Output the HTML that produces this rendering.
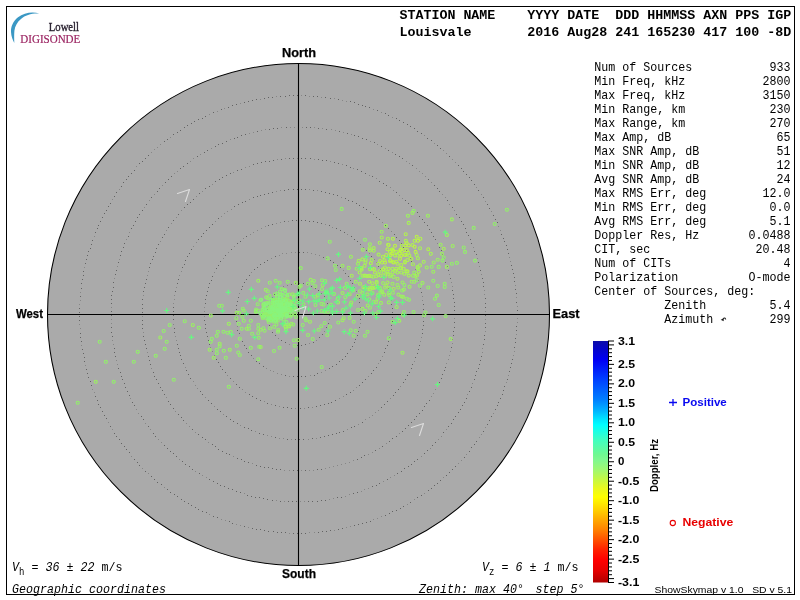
<!DOCTYPE html><html><head><meta charset="utf-8"><style>html,body{margin:0;padding:0;background:#fff;width:800px;height:600px;overflow:hidden}svg{display:block;will-change:transform}text{white-space:pre}</style></head><body><svg width="800" height="600" viewBox="0 0 800 600"><rect x="6.5" y="6.5" width="788" height="588" fill="none" stroke="#000" stroke-width="1"/><path d="M39.2,13.6 C33,11.3 24,12.6 18,17.3 C13,21.3 10.7,26.8 11,32 C11.3,36.5 12.6,40 14.3,42.9 C14.2,39.5 14,35 14.4,30.8 C15,26 17.4,21.8 21,19 C25.4,15.3 31,13.3 39.2,13.6 Z" fill="#3b98c4"/><text x="48.8" y="30.8" font-family="Liberation Serif" font-size="12" fill="#2a2230" stroke="#2a2230" stroke-width="0.35" textLength="30.2" lengthAdjust="spacingAndGlyphs">Lowell</text><text x="20.3" y="42.9" font-family="Liberation Serif" font-size="12" fill="#9a2260" stroke="#9a2260" stroke-width="0.2" textLength="60" lengthAdjust="spacingAndGlyphs">DIGISONDE</text><g font-family="Liberation Mono" font-weight="bold" font-size="13.333" fill="#000" xml:space="preserve"><text x="399.4" y="19">STATION NAME    YYYY DATE  DDD HHMMSS AXN PPS IGP</text><text x="399.4" y="35.5">Louisvale       2016 Aug28 241 165230 417 100 -8D</text></g><g font-family="Liberation Mono" font-size="13" fill="#000"><text x="594.2" y="70.8" textLength="98" lengthAdjust="spacingAndGlyphs">Num of Sources</text><text x="790.6" y="70.8" text-anchor="end" textLength="21" lengthAdjust="spacingAndGlyphs">933</text><text x="594.2" y="84.8" textLength="91" lengthAdjust="spacingAndGlyphs">Min Freq, kHz</text><text x="790.6" y="84.8" text-anchor="end" textLength="28" lengthAdjust="spacingAndGlyphs">2800</text><text x="594.2" y="98.8" textLength="91" lengthAdjust="spacingAndGlyphs">Max Freq, kHz</text><text x="790.6" y="98.8" text-anchor="end" textLength="28" lengthAdjust="spacingAndGlyphs">3150</text><text x="594.2" y="112.8" textLength="91" lengthAdjust="spacingAndGlyphs">Min Range, km</text><text x="790.6" y="112.8" text-anchor="end" textLength="21" lengthAdjust="spacingAndGlyphs">230</text><text x="594.2" y="126.8" textLength="91" lengthAdjust="spacingAndGlyphs">Max Range, km</text><text x="790.6" y="126.8" text-anchor="end" textLength="21" lengthAdjust="spacingAndGlyphs">270</text><text x="594.2" y="140.8" textLength="77" lengthAdjust="spacingAndGlyphs">Max Amp, dB</text><text x="790.6" y="140.8" text-anchor="end" textLength="14" lengthAdjust="spacingAndGlyphs">65</text><text x="594.2" y="154.8" textLength="105" lengthAdjust="spacingAndGlyphs">Max SNR Amp, dB</text><text x="790.6" y="154.8" text-anchor="end" textLength="14" lengthAdjust="spacingAndGlyphs">51</text><text x="594.2" y="168.8" textLength="105" lengthAdjust="spacingAndGlyphs">Min SNR Amp, dB</text><text x="790.6" y="168.8" text-anchor="end" textLength="14" lengthAdjust="spacingAndGlyphs">12</text><text x="594.2" y="182.8" textLength="105" lengthAdjust="spacingAndGlyphs">Avg SNR Amp, dB</text><text x="790.6" y="182.8" text-anchor="end" textLength="14" lengthAdjust="spacingAndGlyphs">24</text><text x="594.2" y="196.8" textLength="112" lengthAdjust="spacingAndGlyphs">Max RMS Err, deg</text><text x="790.6" y="196.8" text-anchor="end" textLength="28" lengthAdjust="spacingAndGlyphs">12.0</text><text x="594.2" y="210.8" textLength="112" lengthAdjust="spacingAndGlyphs">Min RMS Err, deg</text><text x="790.6" y="210.8" text-anchor="end" textLength="21" lengthAdjust="spacingAndGlyphs">0.0</text><text x="594.2" y="224.8" textLength="112" lengthAdjust="spacingAndGlyphs">Avg RMS Err, deg</text><text x="790.6" y="224.8" text-anchor="end" textLength="21" lengthAdjust="spacingAndGlyphs">5.1</text><text x="594.2" y="238.8" textLength="105" lengthAdjust="spacingAndGlyphs">Doppler Res, Hz</text><text x="790.6" y="238.8" text-anchor="end" textLength="42" lengthAdjust="spacingAndGlyphs">0.0488</text><text x="594.2" y="252.8" textLength="56" lengthAdjust="spacingAndGlyphs">CIT, sec</text><text x="790.6" y="252.8" text-anchor="end" textLength="35" lengthAdjust="spacingAndGlyphs">20.48</text><text x="594.2" y="266.8" textLength="77" lengthAdjust="spacingAndGlyphs">Num of CITs</text><text x="790.6" y="266.8" text-anchor="end" textLength="7" lengthAdjust="spacingAndGlyphs">4</text><text x="594.2" y="280.8" textLength="84" lengthAdjust="spacingAndGlyphs">Polarization</text><text x="790.6" y="280.8" text-anchor="end" textLength="42" lengthAdjust="spacingAndGlyphs">O-mode</text><text x="594.2" y="294.8" textLength="161" lengthAdjust="spacingAndGlyphs">Center of Sources, deg:</text><text x="594.2" y="308.8" textLength="112" lengthAdjust="spacingAndGlyphs">          Zenith</text><text x="790.6" y="308.8" text-anchor="end" textLength="21" lengthAdjust="spacingAndGlyphs">5.4</text><text x="594.2" y="322.8" textLength="119" lengthAdjust="spacingAndGlyphs">          Azimuth</text><text x="790.6" y="322.8" text-anchor="end" textLength="21" lengthAdjust="spacingAndGlyphs">299</text></g><path d="M722.8,320 C723,317.8 725.2,317.1 725.7,319.5" fill="none" stroke="#222" stroke-width="1.1"/><path d="M720.6,319.7 L723.8,321.2 L723.3,318.7 Z" fill="#111"/><circle cx="298.5" cy="314.5" r="251.0" fill="#aaaaaa" stroke="#000" stroke-width="1.05"/><path shape-rendering="crispEdges" fill="#636363" d="M79,308h1v1h-1zM79,312h1v1h-1zM79,316h1v1h-1zM79,320h1v1h-1zM80,296h1v1h-1zM80,333h1v1h-1zM80,337h1v1h-1zM81,283h1v1h-1zM81,288h1v1h-1zM81,341h1v1h-1zM82,279h1v1h-1zM82,349h1v1h-1zM83,271h1v1h-1zM83,275h1v1h-1zM83,353h1v1h-1zM84,357h1v1h-1zM84,361h1v1h-1zM85,263h1v1h-1zM86,259h1v1h-1zM86,369h1v1h-1zM87,255h1v1h-1zM87,373h1v1h-1zM88,251h1v1h-1zM88,377h1v1h-1zM90,248h1v1h-1zM90,381h1v1h-1zM91,244h1v1h-1zM91,385h1v1h-1zM92,240h1v1h-1zM95,232h1v1h-1zM95,396h1v1h-1zM97,228h1v1h-1zM97,400h1v1h-1zM98,225h1v1h-1zM98,404h1v1h-1zM100,221h1v1h-1zM100,407h1v1h-1zM102,217h1v1h-1zM102,411h1v1h-1zM104,213h1v1h-1zM104,415h1v1h-1zM106,210h1v1h-1zM106,418h1v1h-1zM108,206h1v1h-1zM110,203h1v1h-1zM110,426h1v1h-1zM111,295h1v1h-1zM111,299h1v1h-1zM111,303h1v1h-1zM111,311h1v1h-1zM111,315h1v1h-1zM111,327h1v1h-1zM111,332h1v1h-1zM112,291h1v1h-1zM112,336h1v1h-1zM113,282h1v1h-1zM113,287h1v1h-1zM114,196h1v1h-1zM114,348h1v1h-1zM114,352h1v1h-1zM114,433h1v1h-1zM115,274h1v1h-1zM115,356h1v1h-1zM116,192h1v1h-1zM116,270h1v1h-1zM116,436h1v1h-1zM118,262h1v1h-1zM118,368h1v1h-1zM119,439h1v1h-1zM120,255h1v1h-1zM120,372h1v1h-1zM121,186h1v1h-1zM121,251h1v1h-1zM121,376h1v1h-1zM121,443h1v1h-1zM122,379h1v1h-1zM123,182h1v1h-1zM123,247h1v1h-1zM124,243h1v1h-1zM124,383h1v1h-1zM124,446h1v1h-1zM125,387h1v1h-1zM126,179h1v1h-1zM126,449h1v1h-1zM127,391h1v1h-1zM128,176h1v1h-1zM128,236h1v1h-1zM129,395h1v1h-1zM129,452h1v1h-1zM131,173h1v1h-1zM131,228h1v1h-1zM132,402h1v1h-1zM133,225h1v1h-1zM134,170h1v1h-1zM134,405h1v1h-1zM134,459h1v1h-1zM135,221h1v1h-1zM137,217h1v1h-1zM137,462h1v1h-1zM139,163h1v1h-1zM139,214h1v1h-1zM139,465h1v1h-1zM141,416h1v1h-1zM142,161h1v1h-1zM142,210h1v1h-1zM142,299h1v1h-1zM142,304h1v1h-1zM142,308h1v1h-1zM142,312h1v1h-1zM142,320h1v1h-1zM142,324h1v1h-1zM142,328h1v1h-1zM143,291h1v1h-1zM143,336h1v1h-1zM143,419h1v1h-1zM144,287h1v1h-1zM144,340h1v1h-1zM145,158h1v1h-1zM145,283h1v1h-1zM145,344h1v1h-1zM145,471h1v1h-1zM146,204h1v1h-1zM146,279h1v1h-1zM146,348h1v1h-1zM148,155h1v1h-1zM148,356h1v1h-1zM148,426h1v1h-1zM149,267h1v1h-1zM149,360h1v1h-1zM150,263h1v1h-1zM150,364h1v1h-1zM151,197h1v1h-1zM151,476h1v1h-1zM152,259h1v1h-1zM153,256h1v1h-1zM153,372h1v1h-1zM153,433h1v1h-1zM154,376h1v1h-1zM154,479h1v1h-1zM155,252h1v1h-1zM155,436h1v1h-1zM156,248h1v1h-1zM156,379h1v1h-1zM157,191h1v1h-1zM157,482h1v1h-1zM158,244h1v1h-1zM158,383h1v1h-1zM159,188h1v1h-1zM160,387h1v1h-1zM161,484h1v1h-1zM162,237h1v1h-1zM162,390h1v1h-1zM164,141h1v1h-1zM164,234h1v1h-1zM164,394h1v1h-1zM164,445h1v1h-1zM165,182h1v1h-1zM167,139h1v1h-1zM167,448h1v1h-1zM167,489h1v1h-1zM168,179h1v1h-1zM168,227h1v1h-1zM168,401h1v1h-1zM170,404h1v1h-1zM170,451h1v1h-1zM170,492h1v1h-1zM171,176h1v1h-1zM173,134h1v1h-1zM173,220h1v1h-1zM173,307h1v1h-1zM173,311h1v1h-1zM173,315h1v1h-1zM173,319h1v1h-1zM173,408h1v1h-1zM173,453h1v1h-1zM174,328h1v1h-1zM174,332h1v1h-1zM174,494h1v1h-1zM175,291h1v1h-1zM176,456h1v1h-1zM177,132h1v1h-1zM177,283h1v1h-1zM177,344h1v1h-1zM177,496h1v1h-1zM178,214h1v1h-1zM178,279h1v1h-1zM178,348h1v1h-1zM178,414h1v1h-1zM179,352h1v1h-1zM180,130h1v1h-1zM180,168h1v1h-1zM180,355h1v1h-1zM181,359h1v1h-1zM181,417h1v1h-1zM181,499h1v1h-1zM182,267h1v1h-1zM182,461h1v1h-1zM183,166h1v1h-1zM183,363h1v1h-1zM183,420h1v1h-1zM184,127h1v1h-1zM184,207h1v1h-1zM184,264h1v1h-1zM184,501h1v1h-1zM185,260h1v1h-1zM185,464h1v1h-1zM186,370h1v1h-1zM187,125h1v1h-1zM187,163h1v1h-1zM187,204h1v1h-1zM187,256h1v1h-1zM188,374h1v1h-1zM188,503h1v1h-1zM189,253h1v1h-1zM189,466h1v1h-1zM190,202h1v1h-1zM190,378h1v1h-1zM191,123h1v1h-1zM191,249h1v1h-1zM191,505h1v1h-1zM192,429h1v1h-1zM192,469h1v1h-1zM193,199h1v1h-1zM194,121h1v1h-1zM195,507h1v1h-1zM197,156h1v1h-1zM198,119h1v1h-1zM198,239h1v1h-1zM198,434h1v1h-1zM198,509h1v1h-1zM199,193h1v1h-1zM199,473h1v1h-1zM200,391h1v1h-1zM201,236h1v1h-1zM202,118h1v1h-1zM202,394h1v1h-1zM202,437h1v1h-1zM202,511h1v1h-1zM203,233h1v1h-1zM204,152h1v1h-1zM204,320h1v1h-1zM205,116h1v1h-1zM205,188h1v1h-1zM205,299h1v1h-1zM205,303h1v1h-1zM205,324h1v1h-1zM205,328h1v1h-1zM205,439h1v1h-1zM206,230h1v1h-1zM206,295h1v1h-1zM206,332h1v1h-1zM206,512h1v1h-1zM207,150h1v1h-1zM207,291h1v1h-1zM207,336h1v1h-1zM208,287h1v1h-1zM208,340h1v1h-1zM208,400h1v1h-1zM209,186h1v1h-1zM209,227h1v1h-1zM209,283h1v1h-1zM209,344h1v1h-1zM209,479h1v1h-1zM211,280h1v1h-1zM211,403h1v1h-1zM212,224h1v1h-1zM212,276h1v1h-1zM212,444h1v1h-1zM213,112h1v1h-1zM213,481h1v1h-1zM213,516h1v1h-1zM215,146h1v1h-1zM215,181h1v1h-1zM215,446h1v1h-1zM216,268h1v1h-1zM216,359h1v1h-1zM217,409h1v1h-1zM217,483h1v1h-1zM217,517h1v1h-1zM218,144h1v1h-1zM218,218h1v1h-1zM218,265h1v1h-1zM218,362h1v1h-1zM218,449h1v1h-1zM219,179h1v1h-1zM220,261h1v1h-1zM220,366h1v1h-1zM220,411h1v1h-1zM220,485h1v1h-1zM221,109h1v1h-1zM222,143h1v1h-1zM222,177h1v1h-1zM222,369h1v1h-1zM222,451h1v1h-1zM224,486h1v1h-1zM225,255h1v1h-1zM225,372h1v1h-1zM226,141h1v1h-1zM226,175h1v1h-1zM226,416h1v1h-1zM226,453h1v1h-1zM228,107h1v1h-1zM228,488h1v1h-1zM229,454h1v1h-1zM229,521h1v1h-1zM230,173h1v1h-1zM230,378h1v1h-1zM230,419h1v1h-1zM231,249h1v1h-1zM232,105h1v1h-1zM232,489h1v1h-1zM232,523h1v1h-1zM233,421h1v1h-1zM234,138h1v1h-1zM234,206h1v1h-1zM236,104h1v1h-1zM236,305h1v1h-1zM236,309h1v1h-1zM236,313h1v1h-1zM236,321h1v1h-1zM236,384h1v1h-1zM236,491h1v1h-1zM237,137h1v1h-1zM237,170h1v1h-1zM237,243h1v1h-1zM237,301h1v1h-1zM237,330h1v1h-1zM237,423h1v1h-1zM237,458h1v1h-1zM238,204h1v1h-1zM238,297h1v1h-1zM239,333h1v1h-1zM239,387h1v1h-1zM240,241h1v1h-1zM240,337h1v1h-1zM240,492h1v1h-1zM241,135h1v1h-1zM241,169h1v1h-1zM241,289h1v1h-1zM241,459h1v1h-1zM242,202h1v1h-1zM242,286h1v1h-1zM242,341h1v1h-1zM244,102h1v1h-1zM244,282h1v1h-1zM244,345h1v1h-1zM244,427h1v1h-1zM244,461h1v1h-1zM244,526h1v1h-1zM245,134h1v1h-1zM245,201h1v1h-1zM246,236h1v1h-1zM246,279h1v1h-1zM246,348h1v1h-1zM247,495h1v1h-1zM248,101h1v1h-1zM248,352h1v1h-1zM248,428h1v1h-1zM248,462h1v1h-1zM249,275h1v1h-1zM249,394h1v1h-1zM251,355h1v1h-1zM251,430h1v1h-1zM251,496h1v1h-1zM252,100h1v1h-1zM252,396h1v1h-1zM252,528h1v1h-1zM253,164h1v1h-1zM253,197h1v1h-1zM254,269h1v1h-1zM255,497h1v1h-1zM256,99h1v1h-1zM256,361h1v1h-1zM256,398h1v1h-1zM256,465h1v1h-1zM256,529h1v1h-1zM257,131h1v1h-1zM257,163h1v1h-1zM257,196h1v1h-1zM257,267h1v1h-1zM259,363h1v1h-1zM259,433h1v1h-1zM259,497h1v1h-1zM260,195h1v1h-1zM260,264h1v1h-1zM260,400h1v1h-1zM260,466h1v1h-1zM260,529h1v1h-1zM261,162h1v1h-1zM263,366h1v1h-1zM263,434h1v1h-1zM263,498h1v1h-1zM264,98h1v1h-1zM264,194h1v1h-1zM264,262h1v1h-1zM264,467h1v1h-1zM264,530h1v1h-1zM265,161h1v1h-1zM267,260h1v1h-1zM267,309h1v1h-1zM267,313h1v1h-1zM267,317h1v1h-1zM267,403h1v1h-1zM267,499h1v1h-1zM268,97h1v1h-1zM268,193h1v1h-1zM268,225h1v1h-1zM268,305h1v1h-1zM268,321h1v1h-1zM268,467h1v1h-1zM268,531h1v1h-1zM269,129h1v1h-1zM269,161h1v1h-1zM269,325h1v1h-1zM270,301h1v1h-1zM272,97h1v1h-1zM272,192h1v1h-1zM272,224h1v1h-1zM272,297h1v1h-1zM272,332h1v1h-1zM272,468h1v1h-1zM272,500h1v1h-1zM273,128h1v1h-1zM273,160h1v1h-1zM273,531h1v1h-1zM274,294h1v1h-1zM275,256h1v1h-1zM275,335h1v1h-1zM275,405h1v1h-1zM275,437h1v1h-1zM276,469h1v1h-1zM277,128h1v1h-1zM277,532h1v1h-1zM280,96h1v1h-1zM280,288h1v1h-1zM280,469h1v1h-1zM280,501h1v1h-1zM281,159h1v1h-1zM281,340h1v1h-1zM281,532h1v1h-1zM283,407h1v1h-1zM284,190h1v1h-1zM284,221h1v1h-1zM285,96h1v1h-1zM285,342h1v1h-1zM285,375h1v1h-1zM285,532h1v1h-1zM286,127h1v1h-1zM287,407h1v1h-1zM287,439h1v1h-1zM288,189h1v1h-1zM288,501h1v1h-1zM289,95h1v1h-1zM289,158h1v1h-1zM291,284h1v1h-1zM291,408h1v1h-1zM292,220h1v1h-1zM292,501h1v1h-1zM293,95h1v1h-1zM293,158h1v1h-1zM293,189h1v1h-1zM293,376h1v1h-1zM293,470h1v1h-1zM293,533h1v1h-1zM295,283h1v1h-1zM295,439h1v1h-1zM296,220h1v1h-1zM296,501h1v1h-1zM297,95h1v1h-1zM297,189h1v1h-1zM297,345h1v1h-1zM297,376h1v1h-1zM297,470h1v1h-1zM297,533h1v1h-1zM298,127h1v1h-1zM299,252h1v1h-1zM299,439h1v1h-1zM300,408h1v1h-1zM301,158h1v1h-1zM301,189h1v1h-1zM301,220h1v1h-1zM301,345h1v1h-1zM301,376h1v1h-1zM301,533h1v1h-1zM303,252h1v1h-1zM303,283h1v1h-1zM303,439h1v1h-1zM305,95h1v1h-1zM305,158h1v1h-1zM305,189h1v1h-1zM305,220h1v1h-1zM305,344h1v1h-1zM305,376h1v1h-1zM305,470h1v1h-1zM305,533h1v1h-1zM306,127h1v1h-1zM307,284h1v1h-1zM308,407h1v1h-1zM308,501h1v1h-1zM309,221h1v1h-1zM310,127h1v1h-1zM310,158h1v1h-1zM311,286h1v1h-1zM312,438h1v1h-1zM312,501h1v1h-1zM313,96h1v1h-1zM313,190h1v1h-1zM313,221h1v1h-1zM313,342h1v1h-1zM314,375h1v1h-1zM315,288h1v1h-1zM316,406h1v1h-1zM317,96h1v1h-1zM317,222h1v1h-1zM317,373h1v1h-1zM317,469h1v1h-1zM317,501h1v1h-1zM318,128h1v1h-1zM318,159h1v1h-1zM318,290h1v1h-1zM318,532h1v1h-1zM319,337h1v1h-1zM320,405h1v1h-1zM320,437h1v1h-1zM321,191h1v1h-1zM321,223h1v1h-1zM321,293h1v1h-1zM321,469h1v1h-1zM321,500h1v1h-1zM322,160h1v1h-1zM322,334h1v1h-1zM322,531h1v1h-1zM323,257h1v1h-1zM324,296h1v1h-1zM324,404h1v1h-1zM324,436h1v1h-1zM325,97h1v1h-1zM325,192h1v1h-1zM325,500h1v1h-1zM326,129h1v1h-1zM326,160h1v1h-1zM326,258h1v1h-1zM326,299h1v1h-1zM326,327h1v1h-1zM326,531h1v1h-1zM327,303h1v1h-1zM328,307h1v1h-1zM328,323h1v1h-1zM328,403h1v1h-1zM328,435h1v1h-1zM329,193h1v1h-1zM329,225h1v1h-1zM329,311h1v1h-1zM329,315h1v1h-1zM329,368h1v1h-1zM330,98h1v1h-1zM330,260h1v1h-1zM330,530h1v1h-1zM331,402h1v1h-1zM332,366h1v1h-1zM332,434h1v1h-1zM333,194h1v1h-1zM333,262h1v1h-1zM334,162h1v1h-1zM335,400h1v1h-1zM336,228h1v1h-1zM336,364h1v1h-1zM336,433h1v1h-1zM337,195h1v1h-1zM337,265h1v1h-1zM337,497h1v1h-1zM338,99h1v1h-1zM338,163h1v1h-1zM338,529h1v1h-1zM339,131h1v1h-1zM339,361h1v1h-1zM339,432h1v1h-1zM340,230h1v1h-1zM340,267h1v1h-1zM341,497h1v1h-1zM342,359h1v1h-1zM342,528h1v1h-1zM343,431h1v1h-1zM344,232h1v1h-1zM345,198h1v1h-1zM345,273h1v1h-1zM345,356h1v1h-1zM346,165h1v1h-1zM346,394h1v1h-1zM347,133h1v1h-1zM347,353h1v1h-1zM348,200h1v1h-1zM348,276h1v1h-1zM350,101h1v1h-1zM350,167h1v1h-1zM350,280h1v1h-1zM350,349h1v1h-1zM350,392h1v1h-1zM351,236h1v1h-1zM351,427h1v1h-1zM352,201h1v1h-1zM352,283h1v1h-1zM352,346h1v1h-1zM353,493h1v1h-1zM354,102h1v1h-1zM354,135h1v1h-1zM354,239h1v1h-1zM354,287h1v1h-1zM354,342h1v1h-1zM354,426h1v1h-1zM354,525h1v1h-1zM355,339h1v1h-1zM356,203h1v1h-1zM357,169h1v1h-1zM357,241h1v1h-1zM357,295h1v1h-1zM357,335h1v1h-1zM357,459h1v1h-1zM357,492h1v1h-1zM358,104h1v1h-1zM358,136h1v1h-1zM358,331h1v1h-1zM358,524h1v1h-1zM359,205h1v1h-1zM359,298h1v1h-1zM359,302h1v1h-1zM359,327h1v1h-1zM359,385h1v1h-1zM360,244h1v1h-1zM360,311h1v1h-1zM360,315h1v1h-1zM360,319h1v1h-1zM361,171h1v1h-1zM361,457h1v1h-1zM362,105h1v1h-1zM362,138h1v1h-1zM362,382h1v1h-1zM362,422h1v1h-1zM362,523h1v1h-1zM363,207h1v1h-1zM364,455h1v1h-1zM365,106h1v1h-1zM365,173h1v1h-1zM365,379h1v1h-1zM366,139h1v1h-1zM366,209h1v1h-1zM366,250h1v1h-1zM366,522h1v1h-1zM369,107h1v1h-1zM370,212h1v1h-1zM370,521h1v1h-1zM371,256h1v1h-1zM371,373h1v1h-1zM372,176h1v1h-1zM372,486h1v1h-1zM373,370h1v1h-1zM374,142h1v1h-1zM375,450h1v1h-1zM376,217h1v1h-1zM376,367h1v1h-1zM376,485h1v1h-1zM377,110h1v1h-1zM378,266h1v1h-1zM379,181h1v1h-1zM379,219h1v1h-1zM379,483h1v1h-1zM380,269h1v1h-1zM380,360h1v1h-1zM381,146h1v1h-1zM381,407h1v1h-1zM382,446h1v1h-1zM383,183h1v1h-1zM384,352h1v1h-1zM384,404h1v1h-1zM385,113h1v1h-1zM385,225h1v1h-1zM385,348h1v1h-1zM385,515h1v1h-1zM386,185h1v1h-1zM386,281h1v1h-1zM387,284h1v1h-1zM387,345h1v1h-1zM387,401h1v1h-1zM387,479h1v1h-1zM388,115h1v1h-1zM388,150h1v1h-1zM388,228h1v1h-1zM388,288h1v1h-1zM388,341h1v1h-1zM389,337h1v1h-1zM389,441h1v1h-1zM389,513h1v1h-1zM390,296h1v1h-1zM390,333h1v1h-1zM391,304h1v1h-1zM391,325h1v1h-1zM391,329h1v1h-1zM392,308h1v1h-1zM392,312h1v1h-1zM392,317h1v1h-1zM392,321h1v1h-1zM392,438h1v1h-1zM392,511h1v1h-1zM393,395h1v1h-1zM394,234h1v1h-1zM395,154h1v1h-1zM395,392h1v1h-1zM396,118h1v1h-1zM396,192h1v1h-1zM396,237h1v1h-1zM396,436h1v1h-1zM396,510h1v1h-1zM397,473h1v1h-1zM398,389h1v1h-1zM399,120h1v1h-1zM399,156h1v1h-1zM399,240h1v1h-1zM400,508h1v1h-1zM401,243h1v1h-1zM401,471h1v1h-1zM402,158h1v1h-1zM402,431h1v1h-1zM403,122h1v1h-1zM403,247h1v1h-1zM403,382h1v1h-1zM403,506h1v1h-1zM404,468h1v1h-1zM405,200h1v1h-1zM405,379h1v1h-1zM405,428h1v1h-1zM406,250h1v1h-1zM407,124h1v1h-1zM407,375h1v1h-1zM408,203h1v1h-1zM408,254h1v1h-1zM408,425h1v1h-1zM408,466h1v1h-1zM409,372h1v1h-1zM410,126h1v1h-1zM410,258h1v1h-1zM410,502h1v1h-1zM411,206h1v1h-1zM411,261h1v1h-1zM411,368h1v1h-1zM411,422h1v1h-1zM411,464h1v1h-1zM412,165h1v1h-1zM412,364h1v1h-1zM413,265h1v1h-1zM414,128h1v1h-1zM414,419h1v1h-1zM414,461h1v1h-1zM415,357h1v1h-1zM416,416h1v1h-1zM417,131h1v1h-1zM417,212h1v1h-1zM417,276h1v1h-1zM417,353h1v1h-1zM417,459h1v1h-1zM417,497h1v1h-1zM418,280h1v1h-1zM418,349h1v1h-1zM419,216h1v1h-1zM419,284h1v1h-1zM419,345h1v1h-1zM419,413h1v1h-1zM421,133h1v1h-1zM421,292h1v1h-1zM421,495h1v1h-1zM422,219h1v1h-1zM422,329h1v1h-1zM422,333h1v1h-1zM422,410h1v1h-1zM423,304h1v1h-1zM423,309h1v1h-1zM423,313h1v1h-1zM423,321h1v1h-1zM423,325h1v1h-1zM424,222h1v1h-1zM424,406h1v1h-1zM424,453h1v1h-1zM426,403h1v1h-1zM427,138h1v1h-1zM427,225h1v1h-1zM427,450h1v1h-1zM428,179h1v1h-1zM428,490h1v1h-1zM429,229h1v1h-1zM429,400h1v1h-1zM431,140h1v1h-1zM431,232h1v1h-1zM431,488h1v1h-1zM432,445h1v1h-1zM433,236h1v1h-1zM434,185h1v1h-1zM434,485h1v1h-1zM435,239h1v1h-1zM435,442h1v1h-1zM437,145h1v1h-1zM437,188h1v1h-1zM437,483h1v1h-1zM439,191h1v1h-1zM439,247h1v1h-1zM439,382h1v1h-1zM440,148h1v1h-1zM440,480h1v1h-1zM441,250h1v1h-1zM441,378h1v1h-1zM442,254h1v1h-1zM442,374h1v1h-1zM443,432h1v1h-1zM444,258h1v1h-1zM444,370h1v1h-1zM445,262h1v1h-1zM445,367h1v1h-1zM446,475h1v1h-1zM447,200h1v1h-1zM447,266h1v1h-1zM448,270h1v1h-1zM448,426h1v1h-1zM449,156h1v1h-1zM449,472h1v1h-1zM450,278h1v1h-1zM451,347h1v1h-1zM451,423h1v1h-1zM452,207h1v1h-1zM452,290h1v1h-1zM452,339h1v1h-1zM452,469h1v1h-1zM453,294h1v1h-1zM453,298h1v1h-1zM453,331h1v1h-1zM453,335h1v1h-1zM453,419h1v1h-1zM454,302h1v1h-1zM454,306h1v1h-1zM454,310h1v1h-1zM454,314h1v1h-1zM454,322h1v1h-1zM454,327h1v1h-1zM455,416h1v1h-1zM455,466h1v1h-1zM456,214h1v1h-1zM458,165h1v1h-1zM458,412h1v1h-1zM459,217h1v1h-1zM460,409h1v1h-1zM461,168h1v1h-1zM461,221h1v1h-1zM462,405h1v1h-1zM463,171h1v1h-1zM463,224h1v1h-1zM464,402h1v1h-1zM464,457h1v1h-1zM465,228h1v1h-1zM466,174h1v1h-1zM466,232h1v1h-1zM466,398h1v1h-1zM468,235h1v1h-1zM469,177h1v1h-1zM469,391h1v1h-1zM469,451h1v1h-1zM470,239h1v1h-1zM471,180h1v1h-1zM471,243h1v1h-1zM471,387h1v1h-1zM471,447h1v1h-1zM474,184h1v1h-1zM474,251h1v1h-1zM474,379h1v1h-1zM474,444h1v1h-1zM475,375h1v1h-1zM476,254h1v1h-1zM476,371h1v1h-1zM476,441h1v1h-1zM478,190h1v1h-1zM478,262h1v1h-1zM478,368h1v1h-1zM479,364h1v1h-1zM480,270h1v1h-1zM480,360h1v1h-1zM481,356h1v1h-1zM482,278h1v1h-1zM483,197h1v1h-1zM483,282h1v1h-1zM483,286h1v1h-1zM483,344h1v1h-1zM483,431h1v1h-1zM484,335h1v1h-1zM484,339h1v1h-1zM485,298h1v1h-1zM485,303h1v1h-1zM485,307h1v1h-1zM485,315h1v1h-1zM485,323h1v1h-1zM485,327h1v1h-1zM487,204h1v1h-1zM487,424h1v1h-1zM489,208h1v1h-1zM489,420h1v1h-1zM491,416h1v1h-1zM493,215h1v1h-1zM495,219h1v1h-1zM495,409h1v1h-1zM497,222h1v1h-1zM497,405h1v1h-1zM498,402h1v1h-1zM500,398h1v1h-1zM501,234h1v1h-1zM502,394h1v1h-1zM503,238h1v1h-1zM503,390h1v1h-1zM504,241h1v1h-1zM504,386h1v1h-1zM506,245h1v1h-1zM507,249h1v1h-1zM507,379h1v1h-1zM508,253h1v1h-1zM509,371h1v1h-1zM510,367h1v1h-1zM511,265h1v1h-1zM511,363h1v1h-1zM512,269h1v1h-1zM512,359h1v1h-1zM513,273h1v1h-1zM514,277h1v1h-1zM514,281h1v1h-1zM514,347h1v1h-1zM515,289h1v1h-1zM515,338h1v1h-1zM515,342h1v1h-1zM516,293h1v1h-1zM516,302h1v1h-1zM516,326h1v1h-1zM516,330h1v1h-1zM517,310h1v1h-1zM517,314h1v1h-1z"/><path shape-rendering="crispEdges" fill="#878787" d="M79,304h1v1h-1zM79,324h1v1h-1zM80,292h1v1h-1zM80,300h1v1h-1zM80,328h1v1h-1zM81,345h1v1h-1zM84,267h1v1h-1zM85,365h1v1h-1zM92,389h1v1h-1zM94,236h1v1h-1zM94,392h1v1h-1zM108,422h1v1h-1zM111,307h1v1h-1zM111,319h1v1h-1zM111,323h1v1h-1zM112,199h1v1h-1zM112,340h1v1h-1zM112,429h1v1h-1zM113,344h1v1h-1zM114,278h1v1h-1zM116,360h1v1h-1zM117,266h1v1h-1zM117,364h1v1h-1zM119,189h1v1h-1zM119,259h1v1h-1zM126,239h1v1h-1zM129,232h1v1h-1zM130,398h1v1h-1zM131,456h1v1h-1zM136,166h1v1h-1zM136,409h1v1h-1zM138,413h1v1h-1zM142,316h1v1h-1zM142,468h1v1h-1zM143,295h1v1h-1zM143,332h1v1h-1zM144,207h1v1h-1zM145,423h1v1h-1zM147,275h1v1h-1zM147,352h1v1h-1zM148,271h1v1h-1zM148,473h1v1h-1zM149,200h1v1h-1zM150,429h1v1h-1zM151,152h1v1h-1zM151,368h1v1h-1zM154,149h1v1h-1zM154,194h1v1h-1zM157,147h1v1h-1zM158,439h1v1h-1zM160,144h1v1h-1zM160,241h1v1h-1zM161,442h1v1h-1zM162,185h1v1h-1zM164,487h1v1h-1zM166,230h1v1h-1zM166,397h1v1h-1zM170,137h1v1h-1zM171,223h1v1h-1zM173,303h1v1h-1zM173,324h1v1h-1zM174,173h1v1h-1zM174,295h1v1h-1zM174,299h1v1h-1zM175,336h1v1h-1zM175,411h1v1h-1zM176,217h1v1h-1zM176,287h1v1h-1zM176,340h1v1h-1zM177,171h1v1h-1zM179,275h1v1h-1zM179,459h1v1h-1zM181,210h1v1h-1zM181,271h1v1h-1zM185,367h1v1h-1zM186,423h1v1h-1zM189,426h1v1h-1zM190,161h1v1h-1zM193,158h1v1h-1zM193,246h1v1h-1zM193,381h1v1h-1zM195,385h1v1h-1zM195,432h1v1h-1zM195,471h1v1h-1zM196,196h1v1h-1zM196,242h1v1h-1zM197,388h1v1h-1zM200,154h1v1h-1zM202,191h1v1h-1zM202,475h1v1h-1zM204,307h1v1h-1zM204,311h1v1h-1zM204,316h1v1h-1zM205,397h1v1h-1zM206,477h1v1h-1zM208,442h1v1h-1zM209,114h1v1h-1zM209,514h1v1h-1zM210,347h1v1h-1zM211,148h1v1h-1zM212,184h1v1h-1zM212,351h1v1h-1zM214,272h1v1h-1zM214,355h1v1h-1zM214,406h1v1h-1zM215,221h1v1h-1zM217,111h1v1h-1zM221,216h1v1h-1zM221,519h1v1h-1zM223,258h1v1h-1zM223,414h1v1h-1zM224,108h1v1h-1zM224,213h1v1h-1zM225,520h1v1h-1zM227,211h1v1h-1zM227,375h1v1h-1zM228,252h1v1h-1zM230,139h1v1h-1zM231,209h1v1h-1zM233,172h1v1h-1zM233,381h1v1h-1zM233,456h1v1h-1zM234,246h1v1h-1zM236,317h1v1h-1zM236,524h1v1h-1zM237,326h1v1h-1zM239,293h1v1h-1zM240,103h1v1h-1zM240,425h1v1h-1zM240,525h1v1h-1zM242,389h1v1h-1zM243,238h1v1h-1zM244,493h1v1h-1zM245,167h1v1h-1zM245,392h1v1h-1zM248,527h1v1h-1zM249,133h1v1h-1zM249,166h1v1h-1zM249,199h1v1h-1zM250,234h1v1h-1zM251,272h1v1h-1zM252,463h1v1h-1zM253,132h1v1h-1zM253,232h1v1h-1zM253,358h1v1h-1zM255,431h1v1h-1zM257,230h1v1h-1zM260,99h1v1h-1zM261,130h1v1h-1zM261,228h1v1h-1zM264,401h1v1h-1zM265,129h1v1h-1zM265,226h1v1h-1zM266,368h1v1h-1zM267,435h1v1h-1zM270,329h1v1h-1zM270,370h1v1h-1zM271,258h1v1h-1zM271,404h1v1h-1zM271,436h1v1h-1zM273,371h1v1h-1zM276,96h1v1h-1zM276,191h1v1h-1zM276,223h1v1h-1zM276,500h1v1h-1zM277,159h1v1h-1zM277,291h1v1h-1zM277,373h1v1h-1zM278,338h1v1h-1zM279,255h1v1h-1zM279,406h1v1h-1zM279,438h1v1h-1zM280,190h1v1h-1zM280,222h1v1h-1zM281,127h1v1h-1zM281,374h1v1h-1zM282,253h1v1h-1zM283,286h1v1h-1zM283,438h1v1h-1zM284,470h1v1h-1zM284,501h1v1h-1zM285,158h1v1h-1zM286,253h1v1h-1zM287,285h1v1h-1zM288,221h1v1h-1zM289,344h1v1h-1zM289,376h1v1h-1zM289,470h1v1h-1zM289,533h1v1h-1zM290,127h1v1h-1zM291,252h1v1h-1zM291,439h1v1h-1zM293,345h1v1h-1zM294,127h1v1h-1zM295,252h1v1h-1zM295,408h1v1h-1zM297,158h1v1h-1zM299,283h1v1h-1zM300,501h1v1h-1zM301,95h1v1h-1zM301,470h1v1h-1zM302,127h1v1h-1zM304,408h1v1h-1zM304,501h1v1h-1zM307,252h1v1h-1zM308,439h1v1h-1zM309,96h1v1h-1zM309,189h1v1h-1zM309,343h1v1h-1zM309,470h1v1h-1zM309,532h1v1h-1zM310,375h1v1h-1zM311,253h1v1h-1zM312,407h1v1h-1zM313,470h1v1h-1zM314,127h1v1h-1zM314,159h1v1h-1zM314,532h1v1h-1zM315,254h1v1h-1zM316,340h1v1h-1zM316,438h1v1h-1zM317,190h1v1h-1zM319,255h1v1h-1zM321,97h1v1h-1zM321,372h1v1h-1zM322,128h1v1h-1zM324,331h1v1h-1zM325,224h1v1h-1zM325,370h1v1h-1zM325,468h1v1h-1zM329,319h1v1h-1zM329,467h1v1h-1zM329,499h1v1h-1zM330,161h1v1h-1zM331,129h1v1h-1zM332,227h1v1h-1zM333,466h1v1h-1zM333,498h1v1h-1zM334,98h1v1h-1zM334,530h1v1h-1zM335,130h1v1h-1zM337,465h1v1h-1zM339,398h1v1h-1zM341,197h1v1h-1zM341,464h1v1h-1zM342,100h1v1h-1zM342,164h1v1h-1zM343,132h1v1h-1zM343,270h1v1h-1zM343,396h1v1h-1zM345,463h1v1h-1zM345,496h1v1h-1zM346,101h1v1h-1zM346,527h1v1h-1zM347,234h1v1h-1zM347,429h1v1h-1zM349,462h1v1h-1zM349,494h1v1h-1zM350,526h1v1h-1zM351,134h1v1h-1zM353,168h1v1h-1zM353,390h1v1h-1zM353,460h1v1h-1zM356,291h1v1h-1zM356,387h1v1h-1zM358,424h1v1h-1zM360,307h1v1h-1zM360,323h1v1h-1zM361,491h1v1h-1zM363,247h1v1h-1zM364,489h1v1h-1zM365,419h1v1h-1zM368,376h1v1h-1zM368,454h1v1h-1zM368,488h1v1h-1zM369,175h1v1h-1zM369,253h1v1h-1zM369,417h1v1h-1zM370,141h1v1h-1zM372,415h1v1h-1zM372,452h1v1h-1zM373,109h1v1h-1zM373,214h1v1h-1zM373,519h1v1h-1zM374,259h1v1h-1zM375,412h1v1h-1zM376,178h1v1h-1zM376,262h1v1h-1zM377,144h1v1h-1zM377,518h1v1h-1zM378,363h1v1h-1zM378,410h1v1h-1zM379,448h1v1h-1zM381,112h1v1h-1zM381,516h1v1h-1zM382,222h1v1h-1zM382,273h1v1h-1zM382,356h1v1h-1zM383,481h1v1h-1zM384,277h1v1h-1zM385,148h1v1h-1zM386,443h1v1h-1zM389,292h1v1h-1zM390,187h1v1h-1zM390,398h1v1h-1zM390,477h1v1h-1zM391,231h1v1h-1zM391,300h1v1h-1zM392,117h1v1h-1zM392,152h1v1h-1zM393,190h1v1h-1zM394,475h1v1h-1zM399,195h1v1h-1zM399,433h1v1h-1zM400,386h1v1h-1zM402,198h1v1h-1zM406,161h1v1h-1zM407,504h1v1h-1zM409,163h1v1h-1zM414,209h1v1h-1zM414,361h1v1h-1zM414,499h1v1h-1zM415,269h1v1h-1zM416,168h1v1h-1zM416,273h1v1h-1zM419,171h1v1h-1zM420,288h1v1h-1zM420,341h1v1h-1zM421,337h1v1h-1zM421,456h1v1h-1zM422,173h1v1h-1zM422,296h1v1h-1zM422,300h1v1h-1zM423,317h1v1h-1zM424,135h1v1h-1zM424,493h1v1h-1zM425,176h1v1h-1zM430,448h1v1h-1zM431,182h1v1h-1zM431,396h1v1h-1zM433,393h1v1h-1zM434,143h1v1h-1zM435,389h1v1h-1zM437,243h1v1h-1zM437,385h1v1h-1zM438,439h1v1h-1zM441,436h1v1h-1zM442,194h1v1h-1zM443,150h1v1h-1zM443,477h1v1h-1zM445,197h1v1h-1zM446,153h1v1h-1zM446,363h1v1h-1zM446,429h1v1h-1zM448,359h1v1h-1zM449,204h1v1h-1zM449,274h1v1h-1zM449,355h1v1h-1zM450,351h1v1h-1zM451,282h1v1h-1zM452,159h1v1h-1zM452,286h1v1h-1zM452,343h1v1h-1zM454,210h1v1h-1zM454,318h1v1h-1zM455,162h1v1h-1zM458,463h1v1h-1zM461,460h1v1h-1zM466,454h1v1h-1zM467,394h1v1h-1zM472,383h1v1h-1zM473,247h1v1h-1zM476,187h1v1h-1zM477,258h1v1h-1zM479,266h1v1h-1zM479,437h1v1h-1zM481,194h1v1h-1zM481,274h1v1h-1zM481,434h1v1h-1zM482,348h1v1h-1zM482,352h1v1h-1zM484,290h1v1h-1zM484,294h1v1h-1zM485,201h1v1h-1zM485,311h1v1h-1zM485,319h1v1h-1zM485,331h1v1h-1zM485,427h1v1h-1zM491,211h1v1h-1zM493,413h1v1h-1zM498,226h1v1h-1zM500,230h1v1h-1zM506,382h1v1h-1zM508,375h1v1h-1zM509,257h1v1h-1zM510,261h1v1h-1zM513,355h1v1h-1zM514,351h1v1h-1zM515,285h1v1h-1zM516,297h1v1h-1zM516,334h1v1h-1zM517,306h1v1h-1zM517,318h1v1h-1zM517,322h1v1h-1z"/><path d="M47.5,314.5 H549.5 M298.5,63.5 V565.5" stroke="#000" stroke-width="1.1"/><path d="M286.5,310.1h5M289.0,307.6v5M277.1,312.8h5M279.6,310.3v5M288.0,311.1h5M290.5,308.6v5M280.1,301.3h5M282.6,298.8v5M276.5,313.8h5M279.0,311.3v5M276.3,316.0h5M278.8,313.5v5M281.4,313.1h5M283.9,310.6v5M279.8,323.9h5M282.3,321.4v5M283.1,305.6h5M285.6,303.1v5M281.7,323.4h5M284.2,320.9v5M275.6,315.0h5M278.1,312.5v5M282.0,307.4h5M284.5,304.9v5M269.2,313.1h5M271.7,310.6v5M280.4,314.9h5M282.9,312.4v5M280.8,307.9h5M283.3,305.4v5M282.3,310.5h5M284.8,308.0v5M277.4,309.3h5M279.9,306.8v5M275.9,313.8h5M278.4,311.3v5M268.3,308.4h5M270.8,305.9v5M273.1,301.5h5M275.6,299.0v5M269.4,299.5h5M271.9,297.0v5M273.0,314.1h5M275.5,311.6v5M279.4,307.9h5M281.9,305.4v5M271.8,302.3h5M274.3,299.8v5M288.2,308.2h5M290.7,305.7v5M280.9,302.3h5M283.4,299.8v5M271.3,300.0h5M273.8,297.5v5M282.6,312.9h5M285.1,310.4v5M264.3,313.4h5M266.8,310.9v5M276.4,298.5h5M278.9,296.0v5" fill="none" stroke="#66f880" stroke-width="1.2"/><path d="M98.2,341.8a1.5,1.5 0 1,0 3,0a1.5,1.5 0 1,0 -3,0M104.3,361.8a1.5,1.5 0 1,0 3,0a1.5,1.5 0 1,0 -3,0M112.2,381.8a1.5,1.5 0 1,0 3,0a1.5,1.5 0 1,0 -3,0M76.2,402.8a1.5,1.5 0 1,0 3,0a1.5,1.5 0 1,0 -3,0M136.2,351.7a1.5,1.5 0 1,0 3,0a1.5,1.5 0 1,0 -3,0M132.3,361.8a1.5,1.5 0 1,0 3,0a1.5,1.5 0 1,0 -3,0M154.2,355.8a1.5,1.5 0 1,0 3,0a1.5,1.5 0 1,0 -3,0M183.2,321.3a1.5,1.5 0 1,0 3,0a1.5,1.5 0 1,0 -3,0M168.2,325.0a1.5,1.5 0 1,0 3,0a1.5,1.5 0 1,0 -3,0M197.3,327.8a1.5,1.5 0 1,0 3,0a1.5,1.5 0 1,0 -3,0M162.2,331.0a1.5,1.5 0 1,0 3,0a1.5,1.5 0 1,0 -3,0M165.2,341.8a1.5,1.5 0 1,0 3,0a1.5,1.5 0 1,0 -3,0M163.2,348.8a1.5,1.5 0 1,0 3,0a1.5,1.5 0 1,0 -3,0M216.3,331.8a1.5,1.5 0 1,0 3,0a1.5,1.5 0 1,0 -3,0M215.2,335.8a1.5,1.5 0 1,0 3,0a1.5,1.5 0 1,0 -3,0M222.0,331.8a1.5,1.5 0 1,0 3,0a1.5,1.5 0 1,0 -3,0M226.0,332.8a1.5,1.5 0 1,0 3,0a1.5,1.5 0 1,0 -3,0M229.3,331.8a1.5,1.5 0 1,0 3,0a1.5,1.5 0 1,0 -3,0M210.3,338.8a1.5,1.5 0 1,0 3,0a1.5,1.5 0 1,0 -3,0M209.2,341.8a1.5,1.5 0 1,0 3,0a1.5,1.5 0 1,0 -3,0M218.2,346.2a1.5,1.5 0 1,0 3,0a1.5,1.5 0 1,0 -3,0M215.3,349.8a1.5,1.5 0 1,0 3,0a1.5,1.5 0 1,0 -3,0M215.3,353.2a1.5,1.5 0 1,0 3,0a1.5,1.5 0 1,0 -3,0M222.3,350.8a1.5,1.5 0 1,0 3,0a1.5,1.5 0 1,0 -3,0M224.3,357.8a1.5,1.5 0 1,0 3,0a1.5,1.5 0 1,0 -3,0M235.3,345.8a1.5,1.5 0 1,0 3,0a1.5,1.5 0 1,0 -3,0M237.2,323.7a1.5,1.5 0 1,0 3,0a1.5,1.5 0 1,0 -3,0M240.2,328.8a1.5,1.5 0 1,0 3,0a1.5,1.5 0 1,0 -3,0M247.3,325.8a1.5,1.5 0 1,0 3,0a1.5,1.5 0 1,0 -3,0M247.3,328.8a1.5,1.5 0 1,0 3,0a1.5,1.5 0 1,0 -3,0M242.3,320.8a1.5,1.5 0 1,0 3,0a1.5,1.5 0 1,0 -3,0M249.3,320.8a1.5,1.5 0 1,0 3,0a1.5,1.5 0 1,0 -3,0M250.7,333.8a1.5,1.5 0 1,0 3,0a1.5,1.5 0 1,0 -3,0M256.8,325.0a1.5,1.5 0 1,0 3,0a1.5,1.5 0 1,0 -3,0M256.8,328.8a1.5,1.5 0 1,0 3,0a1.5,1.5 0 1,0 -3,0M256.8,333.3a1.5,1.5 0 1,0 3,0a1.5,1.5 0 1,0 -3,0M238.3,338.8a1.5,1.5 0 1,0 3,0a1.5,1.5 0 1,0 -3,0M236.8,352.5a1.5,1.5 0 1,0 3,0a1.5,1.5 0 1,0 -3,0M238.3,355.0a1.5,1.5 0 1,0 3,0a1.5,1.5 0 1,0 -3,0M249.3,347.8a1.5,1.5 0 1,0 3,0a1.5,1.5 0 1,0 -3,0M256.8,359.2a1.5,1.5 0 1,0 3,0a1.5,1.5 0 1,0 -3,0M257.7,346.7a1.5,1.5 0 1,0 3,0a1.5,1.5 0 1,0 -3,0M172.3,379.8a1.5,1.5 0 1,0 3,0a1.5,1.5 0 1,0 -3,0M227.3,386.8a1.5,1.5 0 1,0 3,0a1.5,1.5 0 1,0 -3,0M217.7,305.8a1.5,1.5 0 1,0 3,0a1.5,1.5 0 1,0 -3,0M220.3,305.8a1.5,1.5 0 1,0 3,0a1.5,1.5 0 1,0 -3,0M237.8,312.8a1.5,1.5 0 1,0 3,0a1.5,1.5 0 1,0 -3,0M241.3,308.8a1.5,1.5 0 1,0 3,0a1.5,1.5 0 1,0 -3,0M242.2,310.5a1.5,1.5 0 1,0 3,0a1.5,1.5 0 1,0 -3,0M254.3,311.7a1.5,1.5 0 1,0 3,0a1.5,1.5 0 1,0 -3,0M256.8,310.8a1.5,1.5 0 1,0 3,0a1.5,1.5 0 1,0 -3,0M234.8,318.3a1.5,1.5 0 1,0 3,0a1.5,1.5 0 1,0 -3,0M241.0,316.7a1.5,1.5 0 1,0 3,0a1.5,1.5 0 1,0 -3,0M268.3,282.7a1.5,1.5 0 1,0 3,0a1.5,1.5 0 1,0 -3,0M274.2,280.8a1.5,1.5 0 1,0 3,0a1.5,1.5 0 1,0 -3,0M278.2,282.7a1.5,1.5 0 1,0 3,0a1.5,1.5 0 1,0 -3,0M286.2,281.8a1.5,1.5 0 1,0 3,0a1.5,1.5 0 1,0 -3,0M299.3,268.1a1.5,1.5 0 1,0 3,0a1.5,1.5 0 1,0 -3,0M299.3,285.8a1.5,1.5 0 1,0 3,0a1.5,1.5 0 1,0 -3,0M280.6,289.2a1.5,1.5 0 1,0 3,0a1.5,1.5 0 1,0 -3,0M283.5,289.8a1.5,1.5 0 1,0 3,0a1.5,1.5 0 1,0 -3,0M268.1,295.8a1.5,1.5 0 1,0 3,0a1.5,1.5 0 1,0 -3,0M266.0,297.9a1.5,1.5 0 1,0 3,0a1.5,1.5 0 1,0 -3,0M273.5,294.2a1.5,1.5 0 1,0 3,0a1.5,1.5 0 1,0 -3,0M278.1,294.2a1.5,1.5 0 1,0 3,0a1.5,1.5 0 1,0 -3,0M283.9,293.8a1.5,1.5 0 1,0 3,0a1.5,1.5 0 1,0 -3,0M287.7,294.6a1.5,1.5 0 1,0 3,0a1.5,1.5 0 1,0 -3,0M296.8,294.2a1.5,1.5 0 1,0 3,0a1.5,1.5 0 1,0 -3,0M301.8,292.9a1.5,1.5 0 1,0 3,0a1.5,1.5 0 1,0 -3,0M306.5,283.7a1.5,1.5 0 1,0 3,0a1.5,1.5 0 1,0 -3,0M312.5,281.0a1.5,1.5 0 1,0 3,0a1.5,1.5 0 1,0 -3,0M313.8,286.3a1.5,1.5 0 1,0 3,0a1.5,1.5 0 1,0 -3,0M320.5,280.3a1.5,1.5 0 1,0 3,0a1.5,1.5 0 1,0 -3,0M323.8,281.0a1.5,1.5 0 1,0 3,0a1.5,1.5 0 1,0 -3,0M320.5,289.0a1.5,1.5 0 1,0 3,0a1.5,1.5 0 1,0 -3,0M324.5,292.3a1.5,1.5 0 1,0 3,0a1.5,1.5 0 1,0 -3,0M257.2,337.7a1.5,1.5 0 1,0 3,0a1.5,1.5 0 1,0 -3,0M272.5,351.0a1.5,1.5 0 1,0 3,0a1.5,1.5 0 1,0 -3,0M278.1,347.7a1.5,1.5 0 1,0 3,0a1.5,1.5 0 1,0 -3,0M276.5,331.7a1.5,1.5 0 1,0 3,0a1.5,1.5 0 1,0 -3,0M284.5,329.0a1.5,1.5 0 1,0 3,0a1.5,1.5 0 1,0 -3,0M291.8,324.6a1.5,1.5 0 1,0 3,0a1.5,1.5 0 1,0 -3,0M292.5,340.3a1.5,1.5 0 1,0 3,0a1.5,1.5 0 1,0 -3,0M293.2,345.7a1.5,1.5 0 1,0 3,0a1.5,1.5 0 1,0 -3,0M301.2,325.0a1.5,1.5 0 1,0 3,0a1.5,1.5 0 1,0 -3,0M304.5,320.3a1.5,1.5 0 1,0 3,0a1.5,1.5 0 1,0 -3,0M306.5,335.0a1.5,1.5 0 1,0 3,0a1.5,1.5 0 1,0 -3,0M311.2,339.0a1.5,1.5 0 1,0 3,0a1.5,1.5 0 1,0 -3,0M317.2,329.7a1.5,1.5 0 1,0 3,0a1.5,1.5 0 1,0 -3,0M319.8,326.3a1.5,1.5 0 1,0 3,0a1.5,1.5 0 1,0 -3,0M323.2,323.0a1.5,1.5 0 1,0 3,0a1.5,1.5 0 1,0 -3,0M325.8,335.0a1.5,1.5 0 1,0 3,0a1.5,1.5 0 1,0 -3,0M268.5,328.3a1.5,1.5 0 1,0 3,0a1.5,1.5 0 1,0 -3,0M340.2,208.9a1.5,1.5 0 1,0 3,0a1.5,1.5 0 1,0 -3,0M328.3,241.8a1.5,1.5 0 1,0 3,0a1.5,1.5 0 1,0 -3,0M326.1,258.4a1.5,1.5 0 1,0 3,0a1.5,1.5 0 1,0 -3,0M333.5,265.8a1.5,1.5 0 1,0 3,0a1.5,1.5 0 1,0 -3,0M334.3,270.0a1.5,1.5 0 1,0 3,0a1.5,1.5 0 1,0 -3,0M345.2,283.8a1.5,1.5 0 1,0 3,0a1.5,1.5 0 1,0 -3,0M343.5,287.9a1.5,1.5 0 1,0 3,0a1.5,1.5 0 1,0 -3,0M412.2,210.8a1.5,1.5 0 1,0 3,0a1.5,1.5 0 1,0 -3,0M430.2,266.7a1.5,1.5 0 1,0 3,0a1.5,1.5 0 1,0 -3,0M431.8,280.8a1.5,1.5 0 1,0 3,0a1.5,1.5 0 1,0 -3,0M426.8,287.5a1.5,1.5 0 1,0 3,0a1.5,1.5 0 1,0 -3,0M418.5,285.8a1.5,1.5 0 1,0 3,0a1.5,1.5 0 1,0 -3,0M415.2,280.0a1.5,1.5 0 1,0 3,0a1.5,1.5 0 1,0 -3,0M505.4,209.8a1.5,1.5 0 1,0 3,0a1.5,1.5 0 1,0 -3,0M493.2,224.0a1.5,1.5 0 1,0 3,0a1.5,1.5 0 1,0 -3,0M472.2,227.9a1.5,1.5 0 1,0 3,0a1.5,1.5 0 1,0 -3,0M462.2,247.5a1.5,1.5 0 1,0 3,0a1.5,1.5 0 1,0 -3,0M463.5,251.9a1.5,1.5 0 1,0 3,0a1.5,1.5 0 1,0 -3,0M442.2,257.5a1.5,1.5 0 1,0 3,0a1.5,1.5 0 1,0 -3,0M441.0,260.6a1.5,1.5 0 1,0 3,0a1.5,1.5 0 1,0 -3,0M450.4,263.8a1.5,1.5 0 1,0 3,0a1.5,1.5 0 1,0 -3,0M455.4,262.9a1.5,1.5 0 1,0 3,0a1.5,1.5 0 1,0 -3,0M473.5,260.6a1.5,1.5 0 1,0 3,0a1.5,1.5 0 1,0 -3,0M437.2,266.9a1.5,1.5 0 1,0 3,0a1.5,1.5 0 1,0 -3,0M436.2,286.0a1.5,1.5 0 1,0 3,0a1.5,1.5 0 1,0 -3,0M443.2,283.8a1.5,1.5 0 1,0 3,0a1.5,1.5 0 1,0 -3,0M443.2,286.9a1.5,1.5 0 1,0 3,0a1.5,1.5 0 1,0 -3,0M435.4,295.6a1.5,1.5 0 1,0 3,0a1.5,1.5 0 1,0 -3,0M433.5,298.8a1.5,1.5 0 1,0 3,0a1.5,1.5 0 1,0 -3,0M437.2,305.0a1.5,1.5 0 1,0 3,0a1.5,1.5 0 1,0 -3,0M444.1,316.0a1.5,1.5 0 1,0 3,0a1.5,1.5 0 1,0 -3,0M400.6,290.5a1.5,1.5 0 1,0 3,0a1.5,1.5 0 1,0 -3,0M405.2,298.8a1.5,1.5 0 1,0 3,0a1.5,1.5 0 1,0 -3,0M407.5,299.7a1.5,1.5 0 1,0 3,0a1.5,1.5 0 1,0 -3,0M391.4,292.8a1.5,1.5 0 1,0 3,0a1.5,1.5 0 1,0 -3,0M402.4,312.0a1.5,1.5 0 1,0 3,0a1.5,1.5 0 1,0 -3,0M412.0,312.0a1.5,1.5 0 1,0 3,0a1.5,1.5 0 1,0 -3,0M424.0,312.5a1.5,1.5 0 1,0 3,0a1.5,1.5 0 1,0 -3,0M422.6,315.2a1.5,1.5 0 1,0 3,0a1.5,1.5 0 1,0 -3,0M391.0,321.7a1.5,1.5 0 1,0 3,0a1.5,1.5 0 1,0 -3,0M387.3,338.2a1.5,1.5 0 1,0 3,0a1.5,1.5 0 1,0 -3,0M374.0,314.3a1.5,1.5 0 1,0 3,0a1.5,1.5 0 1,0 -3,0M328.5,326.7a1.5,1.5 0 1,0 3,0a1.5,1.5 0 1,0 -3,0M336.8,322.5a1.5,1.5 0 1,0 3,0a1.5,1.5 0 1,0 -3,0M352.2,321.7a1.5,1.5 0 1,0 3,0a1.5,1.5 0 1,0 -3,0M349.3,330.3a1.5,1.5 0 1,0 3,0a1.5,1.5 0 1,0 -3,0M354.3,330.8a1.5,1.5 0 1,0 3,0a1.5,1.5 0 1,0 -3,0M352.2,335.8a1.5,1.5 0 1,0 3,0a1.5,1.5 0 1,0 -3,0M363.5,335.8a1.5,1.5 0 1,0 3,0a1.5,1.5 0 1,0 -3,0M366.0,331.7a1.5,1.5 0 1,0 3,0a1.5,1.5 0 1,0 -3,0M320.2,367.0a1.5,1.5 0 1,0 3,0a1.5,1.5 0 1,0 -3,0M295.2,358.7a1.5,1.5 0 1,0 3,0a1.5,1.5 0 1,0 -3,0M402.9,285.0a1.5,1.5 0 1,0 3,0a1.5,1.5 0 1,0 -3,0M371.0,293.1a1.5,1.5 0 1,0 3,0a1.5,1.5 0 1,0 -3,0M387.2,293.1a1.5,1.5 0 1,0 3,0a1.5,1.5 0 1,0 -3,0M343.8,297.2a1.5,1.5 0 1,0 3,0a1.5,1.5 0 1,0 -3,0M351.6,290.5a1.5,1.5 0 1,0 3,0a1.5,1.5 0 1,0 -3,0M336.2,298.8a1.5,1.5 0 1,0 3,0a1.5,1.5 0 1,0 -3,0M332.5,293.9a1.5,1.5 0 1,0 3,0a1.5,1.5 0 1,0 -3,0M349.0,304.8a1.5,1.5 0 1,0 3,0a1.5,1.5 0 1,0 -3,0M368.5,307.8a1.5,1.5 0 1,0 3,0a1.5,1.5 0 1,0 -3,0M372.2,301.8a1.5,1.5 0 1,0 3,0a1.5,1.5 0 1,0 -3,0M356.5,310.0a1.5,1.5 0 1,0 3,0a1.5,1.5 0 1,0 -3,0M364.0,310.8a1.5,1.5 0 1,0 3,0a1.5,1.5 0 1,0 -3,0M341.5,310.0a1.5,1.5 0 1,0 3,0a1.5,1.5 0 1,0 -3,0M329.5,304.8a1.5,1.5 0 1,0 3,0a1.5,1.5 0 1,0 -3,0M326.5,311.9a1.5,1.5 0 1,0 3,0a1.5,1.5 0 1,0 -3,0M348.2,317.9a1.5,1.5 0 1,0 3,0a1.5,1.5 0 1,0 -3,0M311.0,282.9a1.5,1.5 0 1,0 3,0a1.5,1.5 0 1,0 -3,0M303.9,296.8a1.5,1.5 0 1,0 3,0a1.5,1.5 0 1,0 -3,0M314.0,296.8a1.5,1.5 0 1,0 3,0a1.5,1.5 0 1,0 -3,0M302.0,304.2a1.5,1.5 0 1,0 3,0a1.5,1.5 0 1,0 -3,0M294.9,301.6a1.5,1.5 0 1,0 3,0a1.5,1.5 0 1,0 -3,0M320.0,311.0a1.5,1.5 0 1,0 3,0a1.5,1.5 0 1,0 -3,0M323.0,311.8a1.5,1.5 0 1,0 3,0a1.5,1.5 0 1,0 -3,0M320.0,303.9a1.5,1.5 0 1,0 3,0a1.5,1.5 0 1,0 -3,0M322.2,304.6a1.5,1.5 0 1,0 3,0a1.5,1.5 0 1,0 -3,0M314.0,305.0a1.5,1.5 0 1,0 3,0a1.5,1.5 0 1,0 -3,0M293.0,295.2a1.5,1.5 0 1,0 3,0a1.5,1.5 0 1,0 -3,0M293.0,308.8a1.5,1.5 0 1,0 3,0a1.5,1.5 0 1,0 -3,0M294.5,317.0a1.5,1.5 0 1,0 3,0a1.5,1.5 0 1,0 -3,0M303.9,318.5a1.5,1.5 0 1,0 3,0a1.5,1.5 0 1,0 -3,0M367.8,299.2a1.5,1.5 0 1,0 3,0a1.5,1.5 0 1,0 -3,0M376.8,312.0a1.5,1.5 0 1,0 3,0a1.5,1.5 0 1,0 -3,0M254.6,309.5a1.5,1.5 0 1,0 3,0a1.5,1.5 0 1,0 -3,0M265.5,302.7a1.5,1.5 0 1,0 3,0a1.5,1.5 0 1,0 -3,0M276.5,312.8a1.5,1.5 0 1,0 3,0a1.5,1.5 0 1,0 -3,0M283.7,314.0a1.5,1.5 0 1,0 3,0a1.5,1.5 0 1,0 -3,0M293.5,314.4a1.5,1.5 0 1,0 3,0a1.5,1.5 0 1,0 -3,0M261.2,311.9a1.5,1.5 0 1,0 3,0a1.5,1.5 0 1,0 -3,0M262.1,306.7a1.5,1.5 0 1,0 3,0a1.5,1.5 0 1,0 -3,0M276.0,297.3a1.5,1.5 0 1,0 3,0a1.5,1.5 0 1,0 -3,0M263.2,315.3a1.5,1.5 0 1,0 3,0a1.5,1.5 0 1,0 -3,0M272.7,309.4a1.5,1.5 0 1,0 3,0a1.5,1.5 0 1,0 -3,0M272.8,305.5a1.5,1.5 0 1,0 3,0a1.5,1.5 0 1,0 -3,0M272.8,306.3a1.5,1.5 0 1,0 3,0a1.5,1.5 0 1,0 -3,0M266.3,291.2a1.5,1.5 0 1,0 3,0a1.5,1.5 0 1,0 -3,0M265.9,314.8a1.5,1.5 0 1,0 3,0a1.5,1.5 0 1,0 -3,0M261.2,317.9a1.5,1.5 0 1,0 3,0a1.5,1.5 0 1,0 -3,0M273.2,300.1a1.5,1.5 0 1,0 3,0a1.5,1.5 0 1,0 -3,0M272.2,309.5a1.5,1.5 0 1,0 3,0a1.5,1.5 0 1,0 -3,0M281.7,313.9a1.5,1.5 0 1,0 3,0a1.5,1.5 0 1,0 -3,0M272.8,304.7a1.5,1.5 0 1,0 3,0a1.5,1.5 0 1,0 -3,0M283.6,310.6a1.5,1.5 0 1,0 3,0a1.5,1.5 0 1,0 -3,0M264.7,303.4a1.5,1.5 0 1,0 3,0a1.5,1.5 0 1,0 -3,0M264.2,314.1a1.5,1.5 0 1,0 3,0a1.5,1.5 0 1,0 -3,0M270.9,313.6a1.5,1.5 0 1,0 3,0a1.5,1.5 0 1,0 -3,0M297.6,300.2a1.5,1.5 0 1,0 3,0a1.5,1.5 0 1,0 -3,0M286.7,308.0a1.5,1.5 0 1,0 3,0a1.5,1.5 0 1,0 -3,0M280.0,289.1a1.5,1.5 0 1,0 3,0a1.5,1.5 0 1,0 -3,0M268.8,315.6a1.5,1.5 0 1,0 3,0a1.5,1.5 0 1,0 -3,0M287.8,326.4a1.5,1.5 0 1,0 3,0a1.5,1.5 0 1,0 -3,0M282.2,319.5a1.5,1.5 0 1,0 3,0a1.5,1.5 0 1,0 -3,0M285.7,315.4a1.5,1.5 0 1,0 3,0a1.5,1.5 0 1,0 -3,0M280.1,308.0a1.5,1.5 0 1,0 3,0a1.5,1.5 0 1,0 -3,0M277.6,301.1a1.5,1.5 0 1,0 3,0a1.5,1.5 0 1,0 -3,0M284.4,299.1a1.5,1.5 0 1,0 3,0a1.5,1.5 0 1,0 -3,0M283.8,326.0a1.5,1.5 0 1,0 3,0a1.5,1.5 0 1,0 -3,0M273.3,311.9a1.5,1.5 0 1,0 3,0a1.5,1.5 0 1,0 -3,0M287.0,307.0a1.5,1.5 0 1,0 3,0a1.5,1.5 0 1,0 -3,0M268.2,315.8a1.5,1.5 0 1,0 3,0a1.5,1.5 0 1,0 -3,0M283.2,314.2a1.5,1.5 0 1,0 3,0a1.5,1.5 0 1,0 -3,0M272.7,326.9a1.5,1.5 0 1,0 3,0a1.5,1.5 0 1,0 -3,0M292.0,305.2a1.5,1.5 0 1,0 3,0a1.5,1.5 0 1,0 -3,0M277.0,306.8a1.5,1.5 0 1,0 3,0a1.5,1.5 0 1,0 -3,0M287.5,300.6a1.5,1.5 0 1,0 3,0a1.5,1.5 0 1,0 -3,0M270.6,318.9a1.5,1.5 0 1,0 3,0a1.5,1.5 0 1,0 -3,0M288.6,306.1a1.5,1.5 0 1,0 3,0a1.5,1.5 0 1,0 -3,0M271.0,319.5a1.5,1.5 0 1,0 3,0a1.5,1.5 0 1,0 -3,0M275.9,313.5a1.5,1.5 0 1,0 3,0a1.5,1.5 0 1,0 -3,0M293.6,314.0a1.5,1.5 0 1,0 3,0a1.5,1.5 0 1,0 -3,0M276.6,330.0a1.5,1.5 0 1,0 3,0a1.5,1.5 0 1,0 -3,0M269.0,313.0a1.5,1.5 0 1,0 3,0a1.5,1.5 0 1,0 -3,0M263.1,330.7a1.5,1.5 0 1,0 3,0a1.5,1.5 0 1,0 -3,0M256.2,304.2a1.5,1.5 0 1,0 3,0a1.5,1.5 0 1,0 -3,0M285.8,303.3a1.5,1.5 0 1,0 3,0a1.5,1.5 0 1,0 -3,0M274.0,308.9a1.5,1.5 0 1,0 3,0a1.5,1.5 0 1,0 -3,0M271.3,303.3a1.5,1.5 0 1,0 3,0a1.5,1.5 0 1,0 -3,0M271.8,300.1a1.5,1.5 0 1,0 3,0a1.5,1.5 0 1,0 -3,0M275.6,313.6a1.5,1.5 0 1,0 3,0a1.5,1.5 0 1,0 -3,0M279.5,307.6a1.5,1.5 0 1,0 3,0a1.5,1.5 0 1,0 -3,0M267.0,315.4a1.5,1.5 0 1,0 3,0a1.5,1.5 0 1,0 -3,0M275.0,324.5a1.5,1.5 0 1,0 3,0a1.5,1.5 0 1,0 -3,0M282.8,307.4a1.5,1.5 0 1,0 3,0a1.5,1.5 0 1,0 -3,0M268.9,307.4a1.5,1.5 0 1,0 3,0a1.5,1.5 0 1,0 -3,0M265.3,311.7a1.5,1.5 0 1,0 3,0a1.5,1.5 0 1,0 -3,0M279.8,313.8a1.5,1.5 0 1,0 3,0a1.5,1.5 0 1,0 -3,0M286.9,324.7a1.5,1.5 0 1,0 3,0a1.5,1.5 0 1,0 -3,0M268.6,313.6a1.5,1.5 0 1,0 3,0a1.5,1.5 0 1,0 -3,0M298.0,286.9a1.5,1.5 0 1,0 3,0a1.5,1.5 0 1,0 -3,0M278.1,313.5a1.5,1.5 0 1,0 3,0a1.5,1.5 0 1,0 -3,0M274.1,314.6a1.5,1.5 0 1,0 3,0a1.5,1.5 0 1,0 -3,0M278.1,316.6a1.5,1.5 0 1,0 3,0a1.5,1.5 0 1,0 -3,0M254.4,311.1a1.5,1.5 0 1,0 3,0a1.5,1.5 0 1,0 -3,0M272.7,303.3a1.5,1.5 0 1,0 3,0a1.5,1.5 0 1,0 -3,0M270.8,318.1a1.5,1.5 0 1,0 3,0a1.5,1.5 0 1,0 -3,0M283.7,310.6a1.5,1.5 0 1,0 3,0a1.5,1.5 0 1,0 -3,0M280.2,308.4a1.5,1.5 0 1,0 3,0a1.5,1.5 0 1,0 -3,0M261.5,315.8a1.5,1.5 0 1,0 3,0a1.5,1.5 0 1,0 -3,0M276.6,317.0a1.5,1.5 0 1,0 3,0a1.5,1.5 0 1,0 -3,0M268.6,319.0a1.5,1.5 0 1,0 3,0a1.5,1.5 0 1,0 -3,0M292.4,300.1a1.5,1.5 0 1,0 3,0a1.5,1.5 0 1,0 -3,0M276.5,309.3a1.5,1.5 0 1,0 3,0a1.5,1.5 0 1,0 -3,0M291.6,307.8a1.5,1.5 0 1,0 3,0a1.5,1.5 0 1,0 -3,0M282.5,302.6a1.5,1.5 0 1,0 3,0a1.5,1.5 0 1,0 -3,0M275.3,311.0a1.5,1.5 0 1,0 3,0a1.5,1.5 0 1,0 -3,0M261.9,328.2a1.5,1.5 0 1,0 3,0a1.5,1.5 0 1,0 -3,0M279.6,294.6a1.5,1.5 0 1,0 3,0a1.5,1.5 0 1,0 -3,0M282.5,307.3a1.5,1.5 0 1,0 3,0a1.5,1.5 0 1,0 -3,0M260.1,314.8a1.5,1.5 0 1,0 3,0a1.5,1.5 0 1,0 -3,0M288.7,301.3a1.5,1.5 0 1,0 3,0a1.5,1.5 0 1,0 -3,0M261.7,304.5a1.5,1.5 0 1,0 3,0a1.5,1.5 0 1,0 -3,0M264.4,317.9a1.5,1.5 0 1,0 3,0a1.5,1.5 0 1,0 -3,0M293.4,308.1a1.5,1.5 0 1,0 3,0a1.5,1.5 0 1,0 -3,0M268.5,307.8a1.5,1.5 0 1,0 3,0a1.5,1.5 0 1,0 -3,0M282.2,313.2a1.5,1.5 0 1,0 3,0a1.5,1.5 0 1,0 -3,0M262.3,305.8a1.5,1.5 0 1,0 3,0a1.5,1.5 0 1,0 -3,0M279.0,311.8a1.5,1.5 0 1,0 3,0a1.5,1.5 0 1,0 -3,0M262.1,314.2a1.5,1.5 0 1,0 3,0a1.5,1.5 0 1,0 -3,0M271.4,316.4a1.5,1.5 0 1,0 3,0a1.5,1.5 0 1,0 -3,0M274.1,310.8a1.5,1.5 0 1,0 3,0a1.5,1.5 0 1,0 -3,0M274.9,320.2a1.5,1.5 0 1,0 3,0a1.5,1.5 0 1,0 -3,0M288.2,303.2a1.5,1.5 0 1,0 3,0a1.5,1.5 0 1,0 -3,0M281.8,302.3a1.5,1.5 0 1,0 3,0a1.5,1.5 0 1,0 -3,0M278.3,316.4a1.5,1.5 0 1,0 3,0a1.5,1.5 0 1,0 -3,0M289.4,302.7a1.5,1.5 0 1,0 3,0a1.5,1.5 0 1,0 -3,0M260.8,316.5a1.5,1.5 0 1,0 3,0a1.5,1.5 0 1,0 -3,0M269.8,316.2a1.5,1.5 0 1,0 3,0a1.5,1.5 0 1,0 -3,0M258.9,300.2a1.5,1.5 0 1,0 3,0a1.5,1.5 0 1,0 -3,0M276.6,312.8a1.5,1.5 0 1,0 3,0a1.5,1.5 0 1,0 -3,0M363.5,239.7a1.5,1.5 0 1,0 3,0a1.5,1.5 0 1,0 -3,0" fill="none" stroke="#92f06a" stroke-width="1.1"/><path d="M94.2,381.8a1.5,1.5 0 1,0 3,0a1.5,1.5 0 1,0 -3,0M191.3,325.0a1.5,1.5 0 1,0 3,0a1.5,1.5 0 1,0 -3,0M158.8,337.5a1.5,1.5 0 1,0 3,0a1.5,1.5 0 1,0 -3,0M227.3,323.7a1.5,1.5 0 1,0 3,0a1.5,1.5 0 1,0 -3,0M218.2,343.8a1.5,1.5 0 1,0 3,0a1.5,1.5 0 1,0 -3,0M208.2,349.8a1.5,1.5 0 1,0 3,0a1.5,1.5 0 1,0 -3,0M228.3,349.8a1.5,1.5 0 1,0 3,0a1.5,1.5 0 1,0 -3,0M212.2,357.8a1.5,1.5 0 1,0 3,0a1.5,1.5 0 1,0 -3,0M245.2,328.8a1.5,1.5 0 1,0 3,0a1.5,1.5 0 1,0 -3,0M256.8,280.8a1.5,1.5 0 1,0 3,0a1.5,1.5 0 1,0 -3,0M209.3,315.5a1.5,1.5 0 1,0 3,0a1.5,1.5 0 1,0 -3,0M235.2,312.8a1.5,1.5 0 1,0 3,0a1.5,1.5 0 1,0 -3,0M294.3,282.7a1.5,1.5 0 1,0 3,0a1.5,1.5 0 1,0 -3,0M264.3,289.8a1.5,1.5 0 1,0 3,0a1.5,1.5 0 1,0 -3,0M291.0,294.2a1.5,1.5 0 1,0 3,0a1.5,1.5 0 1,0 -3,0M309.2,279.7a1.5,1.5 0 1,0 3,0a1.5,1.5 0 1,0 -3,0M321.2,285.0a1.5,1.5 0 1,0 3,0a1.5,1.5 0 1,0 -3,0M259.2,329.7a1.5,1.5 0 1,0 3,0a1.5,1.5 0 1,0 -3,0M259.2,347.0a1.5,1.5 0 1,0 3,0a1.5,1.5 0 1,0 -3,0M287.2,326.3a1.5,1.5 0 1,0 3,0a1.5,1.5 0 1,0 -3,0M289.8,323.7a1.5,1.5 0 1,0 3,0a1.5,1.5 0 1,0 -3,0M296.5,340.0a1.5,1.5 0 1,0 3,0a1.5,1.5 0 1,0 -3,0M308.5,321.7a1.5,1.5 0 1,0 3,0a1.5,1.5 0 1,0 -3,0M349.4,256.8a1.5,1.5 0 1,0 3,0a1.5,1.5 0 1,0 -3,0M361.4,249.7a1.5,1.5 0 1,0 3,0a1.5,1.5 0 1,0 -3,0M368.4,244.3a1.5,1.5 0 1,0 3,0a1.5,1.5 0 1,0 -3,0M341.0,265.8a1.5,1.5 0 1,0 3,0a1.5,1.5 0 1,0 -3,0M347.2,267.9a1.5,1.5 0 1,0 3,0a1.5,1.5 0 1,0 -3,0M356.4,263.8a1.5,1.5 0 1,0 3,0a1.5,1.5 0 1,0 -3,0M355.2,268.8a1.5,1.5 0 1,0 3,0a1.5,1.5 0 1,0 -3,0M371.8,276.7a1.5,1.5 0 1,0 3,0a1.5,1.5 0 1,0 -3,0M354.3,281.7a1.5,1.5 0 1,0 3,0a1.5,1.5 0 1,0 -3,0M363.5,287.5a1.5,1.5 0 1,0 3,0a1.5,1.5 0 1,0 -3,0M411.0,212.9a1.5,1.5 0 1,0 3,0a1.5,1.5 0 1,0 -3,0M406.4,215.8a1.5,1.5 0 1,0 3,0a1.5,1.5 0 1,0 -3,0M426.4,215.8a1.5,1.5 0 1,0 3,0a1.5,1.5 0 1,0 -3,0M384.3,225.8a1.5,1.5 0 1,0 3,0a1.5,1.5 0 1,0 -3,0M380.2,231.7a1.5,1.5 0 1,0 3,0a1.5,1.5 0 1,0 -3,0M425.2,267.5a1.5,1.5 0 1,0 3,0a1.5,1.5 0 1,0 -3,0M432.2,262.5a1.5,1.5 0 1,0 3,0a1.5,1.5 0 1,0 -3,0M431.8,271.7a1.5,1.5 0 1,0 3,0a1.5,1.5 0 1,0 -3,0M421.0,282.9a1.5,1.5 0 1,0 3,0a1.5,1.5 0 1,0 -3,0M412.7,272.5a1.5,1.5 0 1,0 3,0a1.5,1.5 0 1,0 -3,0M411.4,275.8a1.5,1.5 0 1,0 3,0a1.5,1.5 0 1,0 -3,0M413.9,276.2a1.5,1.5 0 1,0 3,0a1.5,1.5 0 1,0 -3,0M410.2,281.7a1.5,1.5 0 1,0 3,0a1.5,1.5 0 1,0 -3,0M412.7,281.7a1.5,1.5 0 1,0 3,0a1.5,1.5 0 1,0 -3,0M408.1,286.7a1.5,1.5 0 1,0 3,0a1.5,1.5 0 1,0 -3,0M450.4,219.4a1.5,1.5 0 1,0 3,0a1.5,1.5 0 1,0 -3,0M445.4,235.0a1.5,1.5 0 1,0 3,0a1.5,1.5 0 1,0 -3,0M439.1,244.8a1.5,1.5 0 1,0 3,0a1.5,1.5 0 1,0 -3,0M451.2,246.0a1.5,1.5 0 1,0 3,0a1.5,1.5 0 1,0 -3,0M440.4,253.8a1.5,1.5 0 1,0 3,0a1.5,1.5 0 1,0 -3,0M436.2,259.8a1.5,1.5 0 1,0 3,0a1.5,1.5 0 1,0 -3,0M445.4,266.9a1.5,1.5 0 1,0 3,0a1.5,1.5 0 1,0 -3,0M449.1,339.0a1.5,1.5 0 1,0 3,0a1.5,1.5 0 1,0 -3,0M402.4,289.6a1.5,1.5 0 1,0 3,0a1.5,1.5 0 1,0 -3,0M396.9,294.6a1.5,1.5 0 1,0 3,0a1.5,1.5 0 1,0 -3,0M400.1,296.5a1.5,1.5 0 1,0 3,0a1.5,1.5 0 1,0 -3,0M395.1,307.0a1.5,1.5 0 1,0 3,0a1.5,1.5 0 1,0 -3,0M387.3,302.4a1.5,1.5 0 1,0 3,0a1.5,1.5 0 1,0 -3,0M379.5,302.9a1.5,1.5 0 1,0 3,0a1.5,1.5 0 1,0 -3,0M387.7,295.0a1.5,1.5 0 1,0 3,0a1.5,1.5 0 1,0 -3,0M401.5,314.8a1.5,1.5 0 1,0 3,0a1.5,1.5 0 1,0 -3,0M397.8,320.7a1.5,1.5 0 1,0 3,0a1.5,1.5 0 1,0 -3,0M341.0,320.3a1.5,1.5 0 1,0 3,0a1.5,1.5 0 1,0 -3,0M401.0,352.8a1.5,1.5 0 1,0 3,0a1.5,1.5 0 1,0 -3,0M401.0,282.5a1.5,1.5 0 1,0 3,0a1.5,1.5 0 1,0 -3,0M392.2,276.9a1.5,1.5 0 1,0 3,0a1.5,1.5 0 1,0 -3,0M388.5,276.2a1.5,1.5 0 1,0 3,0a1.5,1.5 0 1,0 -3,0M381.6,283.1a1.5,1.5 0 1,0 3,0a1.5,1.5 0 1,0 -3,0M391.0,283.8a1.5,1.5 0 1,0 3,0a1.5,1.5 0 1,0 -3,0M396.0,285.0a1.5,1.5 0 1,0 3,0a1.5,1.5 0 1,0 -3,0M387.9,288.1a1.5,1.5 0 1,0 3,0a1.5,1.5 0 1,0 -3,0M383.5,287.5a1.5,1.5 0 1,0 3,0a1.5,1.5 0 1,0 -3,0M378.5,288.1a1.5,1.5 0 1,0 3,0a1.5,1.5 0 1,0 -3,0M358.5,291.2a1.5,1.5 0 1,0 3,0a1.5,1.5 0 1,0 -3,0M341.0,293.1a1.5,1.5 0 1,0 3,0a1.5,1.5 0 1,0 -3,0M366.0,294.4a1.5,1.5 0 1,0 3,0a1.5,1.5 0 1,0 -3,0M376.6,295.0a1.5,1.5 0 1,0 3,0a1.5,1.5 0 1,0 -3,0M381.0,292.5a1.5,1.5 0 1,0 3,0a1.5,1.5 0 1,0 -3,0M401.6,296.9a1.5,1.5 0 1,0 3,0a1.5,1.5 0 1,0 -3,0M368.5,287.5a1.5,1.5 0 1,0 3,0a1.5,1.5 0 1,0 -3,0M348.2,294.2a1.5,1.5 0 1,0 3,0a1.5,1.5 0 1,0 -3,0M356.5,295.8a1.5,1.5 0 1,0 3,0a1.5,1.5 0 1,0 -3,0M361.0,293.1a1.5,1.5 0 1,0 3,0a1.5,1.5 0 1,0 -3,0M336.6,302.5a1.5,1.5 0 1,0 3,0a1.5,1.5 0 1,0 -3,0M349.8,302.5a1.5,1.5 0 1,0 3,0a1.5,1.5 0 1,0 -3,0M366.2,305.5a1.5,1.5 0 1,0 3,0a1.5,1.5 0 1,0 -3,0M376.0,298.8a1.5,1.5 0 1,0 3,0a1.5,1.5 0 1,0 -3,0M361.0,308.9a1.5,1.5 0 1,0 3,0a1.5,1.5 0 1,0 -3,0M342.2,318.2a1.5,1.5 0 1,0 3,0a1.5,1.5 0 1,0 -3,0M316.2,295.2a1.5,1.5 0 1,0 3,0a1.5,1.5 0 1,0 -3,0M367.0,289.5a1.5,1.5 0 1,0 3,0a1.5,1.5 0 1,0 -3,0M374.5,302.2a1.5,1.5 0 1,0 3,0a1.5,1.5 0 1,0 -3,0M382.8,294.8a1.5,1.5 0 1,0 3,0a1.5,1.5 0 1,0 -3,0M379.0,292.5a1.5,1.5 0 1,0 3,0a1.5,1.5 0 1,0 -3,0M274.7,311.3a1.5,1.5 0 1,0 3,0a1.5,1.5 0 1,0 -3,0M283.4,311.1a1.5,1.5 0 1,0 3,0a1.5,1.5 0 1,0 -3,0M273.9,311.0a1.5,1.5 0 1,0 3,0a1.5,1.5 0 1,0 -3,0M269.8,306.8a1.5,1.5 0 1,0 3,0a1.5,1.5 0 1,0 -3,0M279.5,306.0a1.5,1.5 0 1,0 3,0a1.5,1.5 0 1,0 -3,0M280.8,305.0a1.5,1.5 0 1,0 3,0a1.5,1.5 0 1,0 -3,0M277.7,316.9a1.5,1.5 0 1,0 3,0a1.5,1.5 0 1,0 -3,0M285.7,297.0a1.5,1.5 0 1,0 3,0a1.5,1.5 0 1,0 -3,0M270.8,314.1a1.5,1.5 0 1,0 3,0a1.5,1.5 0 1,0 -3,0M266.9,319.5a1.5,1.5 0 1,0 3,0a1.5,1.5 0 1,0 -3,0M278.5,305.4a1.5,1.5 0 1,0 3,0a1.5,1.5 0 1,0 -3,0M280.9,312.1a1.5,1.5 0 1,0 3,0a1.5,1.5 0 1,0 -3,0M284.0,326.9a1.5,1.5 0 1,0 3,0a1.5,1.5 0 1,0 -3,0M275.3,312.7a1.5,1.5 0 1,0 3,0a1.5,1.5 0 1,0 -3,0M396.8,287.6a1.5,1.5 0 1,0 3,0a1.5,1.5 0 1,0 -3,0M416.4,268.4a1.5,1.5 0 1,0 3,0a1.5,1.5 0 1,0 -3,0M380.5,291.4a1.5,1.5 0 1,0 3,0a1.5,1.5 0 1,0 -3,0" fill="none" stroke="#9cf160" stroke-width="1.1"/><path d="M368.4,250.3a1.5,1.5 0 1,0 3,0a1.5,1.5 0 1,0 -3,0M372.2,248.1a1.5,1.5 0 1,0 3,0a1.5,1.5 0 1,0 -3,0M372.2,250.8a1.5,1.5 0 1,0 3,0a1.5,1.5 0 1,0 -3,0M377.1,254.6a1.5,1.5 0 1,0 3,0a1.5,1.5 0 1,0 -3,0M378.2,242.7a1.5,1.5 0 1,0 3,0a1.5,1.5 0 1,0 -3,0M368.1,248.3a1.5,1.5 0 1,0 3,0a1.5,1.5 0 1,0 -3,0M357.2,260.8a1.5,1.5 0 1,0 3,0a1.5,1.5 0 1,0 -3,0M364.3,260.0a1.5,1.5 0 1,0 3,0a1.5,1.5 0 1,0 -3,0M363.9,262.5a1.5,1.5 0 1,0 3,0a1.5,1.5 0 1,0 -3,0M363.1,265.8a1.5,1.5 0 1,0 3,0a1.5,1.5 0 1,0 -3,0M370.2,260.0a1.5,1.5 0 1,0 3,0a1.5,1.5 0 1,0 -3,0M376.8,263.8a1.5,1.5 0 1,0 3,0a1.5,1.5 0 1,0 -3,0M358.1,272.5a1.5,1.5 0 1,0 3,0a1.5,1.5 0 1,0 -3,0M360.2,269.6a1.5,1.5 0 1,0 3,0a1.5,1.5 0 1,0 -3,0M361.0,275.8a1.5,1.5 0 1,0 3,0a1.5,1.5 0 1,0 -3,0M364.3,275.8a1.5,1.5 0 1,0 3,0a1.5,1.5 0 1,0 -3,0M368.5,269.2a1.5,1.5 0 1,0 3,0a1.5,1.5 0 1,0 -3,0M372.7,269.2a1.5,1.5 0 1,0 3,0a1.5,1.5 0 1,0 -3,0M376.8,275.0a1.5,1.5 0 1,0 3,0a1.5,1.5 0 1,0 -3,0M350.2,275.8a1.5,1.5 0 1,0 3,0a1.5,1.5 0 1,0 -3,0M358.5,283.8a1.5,1.5 0 1,0 3,0a1.5,1.5 0 1,0 -3,0M367.7,281.7a1.5,1.5 0 1,0 3,0a1.5,1.5 0 1,0 -3,0M371.0,283.3a1.5,1.5 0 1,0 3,0a1.5,1.5 0 1,0 -3,0M375.2,281.7a1.5,1.5 0 1,0 3,0a1.5,1.5 0 1,0 -3,0M370.2,287.5a1.5,1.5 0 1,0 3,0a1.5,1.5 0 1,0 -3,0M376.0,286.7a1.5,1.5 0 1,0 3,0a1.5,1.5 0 1,0 -3,0M407.2,222.9a1.5,1.5 0 1,0 3,0a1.5,1.5 0 1,0 -3,0M380.2,237.5a1.5,1.5 0 1,0 3,0a1.5,1.5 0 1,0 -3,0M386.4,238.8a1.5,1.5 0 1,0 3,0a1.5,1.5 0 1,0 -3,0M418.5,248.3a1.5,1.5 0 1,0 3,0a1.5,1.5 0 1,0 -3,0M429.3,253.8a1.5,1.5 0 1,0 3,0a1.5,1.5 0 1,0 -3,0M416.4,258.3a1.5,1.5 0 1,0 3,0a1.5,1.5 0 1,0 -3,0M415.2,255.0a1.5,1.5 0 1,0 3,0a1.5,1.5 0 1,0 -3,0M422.2,261.7a1.5,1.5 0 1,0 3,0a1.5,1.5 0 1,0 -3,0M418.5,265.4a1.5,1.5 0 1,0 3,0a1.5,1.5 0 1,0 -3,0M416.0,267.1a1.5,1.5 0 1,0 3,0a1.5,1.5 0 1,0 -3,0M417.2,271.7a1.5,1.5 0 1,0 3,0a1.5,1.5 0 1,0 -3,0M411.4,264.2a1.5,1.5 0 1,0 3,0a1.5,1.5 0 1,0 -3,0M442.2,248.8a1.5,1.5 0 1,0 3,0a1.5,1.5 0 1,0 -3,0M383.5,267.5a1.5,1.5 0 1,0 3,0a1.5,1.5 0 1,0 -3,0M391.0,268.8a1.5,1.5 0 1,0 3,0a1.5,1.5 0 1,0 -3,0M398.5,268.1a1.5,1.5 0 1,0 3,0a1.5,1.5 0 1,0 -3,0M359.8,268.1a1.5,1.5 0 1,0 3,0a1.5,1.5 0 1,0 -3,0M377.9,271.2a1.5,1.5 0 1,0 3,0a1.5,1.5 0 1,0 -3,0M382.2,272.5a1.5,1.5 0 1,0 3,0a1.5,1.5 0 1,0 -3,0M386.0,271.9a1.5,1.5 0 1,0 3,0a1.5,1.5 0 1,0 -3,0M391.0,272.5a1.5,1.5 0 1,0 3,0a1.5,1.5 0 1,0 -3,0M396.0,272.5a1.5,1.5 0 1,0 3,0a1.5,1.5 0 1,0 -3,0M399.8,272.5a1.5,1.5 0 1,0 3,0a1.5,1.5 0 1,0 -3,0M402.9,273.8a1.5,1.5 0 1,0 3,0a1.5,1.5 0 1,0 -3,0M407.2,275.6a1.5,1.5 0 1,0 3,0a1.5,1.5 0 1,0 -3,0M396.0,278.8a1.5,1.5 0 1,0 3,0a1.5,1.5 0 1,0 -3,0M383.5,276.2a1.5,1.5 0 1,0 3,0a1.5,1.5 0 1,0 -3,0M379.1,275.6a1.5,1.5 0 1,0 3,0a1.5,1.5 0 1,0 -3,0M374.8,276.2a1.5,1.5 0 1,0 3,0a1.5,1.5 0 1,0 -3,0M369.8,276.2a1.5,1.5 0 1,0 3,0a1.5,1.5 0 1,0 -3,0M366.0,276.2a1.5,1.5 0 1,0 3,0a1.5,1.5 0 1,0 -3,0M362.9,275.6a1.5,1.5 0 1,0 3,0a1.5,1.5 0 1,0 -3,0M386.0,282.5a1.5,1.5 0 1,0 3,0a1.5,1.5 0 1,0 -3,0M392.2,288.8a1.5,1.5 0 1,0 3,0a1.5,1.5 0 1,0 -3,0M373.5,287.5a1.5,1.5 0 1,0 3,0a1.5,1.5 0 1,0 -3,0M368.5,289.4a1.5,1.5 0 1,0 3,0a1.5,1.5 0 1,0 -3,0M371.5,288.2a1.5,1.5 0 1,0 3,0a1.5,1.5 0 1,0 -3,0M375.2,283.0a1.5,1.5 0 1,0 3,0a1.5,1.5 0 1,0 -3,0M361.8,287.2a1.5,1.5 0 1,0 3,0a1.5,1.5 0 1,0 -3,0M389.1,274.8a1.5,1.5 0 1,0 3,0a1.5,1.5 0 1,0 -3,0M405.1,271.4a1.5,1.5 0 1,0 3,0a1.5,1.5 0 1,0 -3,0M399.3,268.0a1.5,1.5 0 1,0 3,0a1.5,1.5 0 1,0 -3,0M360.9,259.4a1.5,1.5 0 1,0 3,0a1.5,1.5 0 1,0 -3,0M415.5,275.3a1.5,1.5 0 1,0 3,0a1.5,1.5 0 1,0 -3,0M386.4,273.8a1.5,1.5 0 1,0 3,0a1.5,1.5 0 1,0 -3,0M394.1,270.9a1.5,1.5 0 1,0 3,0a1.5,1.5 0 1,0 -3,0M384.8,285.7a1.5,1.5 0 1,0 3,0a1.5,1.5 0 1,0 -3,0" fill="none" stroke="#a7f257" stroke-width="1.1"/><path d="M369.3,263.3a1.5,1.5 0 1,0 3,0a1.5,1.5 0 1,0 -3,0M367.7,275.8a1.5,1.5 0 1,0 3,0a1.5,1.5 0 1,0 -3,0M373.5,272.5a1.5,1.5 0 1,0 3,0a1.5,1.5 0 1,0 -3,0M391.4,238.8a1.5,1.5 0 1,0 3,0a1.5,1.5 0 1,0 -3,0M387.2,245.0a1.5,1.5 0 1,0 3,0a1.5,1.5 0 1,0 -3,0M404.3,240.8a1.5,1.5 0 1,0 3,0a1.5,1.5 0 1,0 -3,0M400.2,245.8a1.5,1.5 0 1,0 3,0a1.5,1.5 0 1,0 -3,0M411.0,245.0a1.5,1.5 0 1,0 3,0a1.5,1.5 0 1,0 -3,0M413.1,240.8a1.5,1.5 0 1,0 3,0a1.5,1.5 0 1,0 -3,0M418.9,238.8a1.5,1.5 0 1,0 3,0a1.5,1.5 0 1,0 -3,0M426.8,249.2a1.5,1.5 0 1,0 3,0a1.5,1.5 0 1,0 -3,0M386.0,249.2a1.5,1.5 0 1,0 3,0a1.5,1.5 0 1,0 -3,0M391.0,249.2a1.5,1.5 0 1,0 3,0a1.5,1.5 0 1,0 -3,0M381.4,256.7a1.5,1.5 0 1,0 3,0a1.5,1.5 0 1,0 -3,0M388.5,251.9a1.5,1.5 0 1,0 3,0a1.5,1.5 0 1,0 -3,0M394.8,251.9a1.5,1.5 0 1,0 3,0a1.5,1.5 0 1,0 -3,0M407.9,255.6a1.5,1.5 0 1,0 3,0a1.5,1.5 0 1,0 -3,0M409.8,258.8a1.5,1.5 0 1,0 3,0a1.5,1.5 0 1,0 -3,0M393.5,255.6a1.5,1.5 0 1,0 3,0a1.5,1.5 0 1,0 -3,0M384.8,255.0a1.5,1.5 0 1,0 3,0a1.5,1.5 0 1,0 -3,0M380.4,262.5a1.5,1.5 0 1,0 3,0a1.5,1.5 0 1,0 -3,0M388.5,261.2a1.5,1.5 0 1,0 3,0a1.5,1.5 0 1,0 -3,0M396.0,263.8a1.5,1.5 0 1,0 3,0a1.5,1.5 0 1,0 -3,0M399.8,265.0a1.5,1.5 0 1,0 3,0a1.5,1.5 0 1,0 -3,0M403.5,262.5a1.5,1.5 0 1,0 3,0a1.5,1.5 0 1,0 -3,0M406.0,260.0a1.5,1.5 0 1,0 3,0a1.5,1.5 0 1,0 -3,0M387.2,268.8a1.5,1.5 0 1,0 3,0a1.5,1.5 0 1,0 -3,0M394.8,268.8a1.5,1.5 0 1,0 3,0a1.5,1.5 0 1,0 -3,0M402.2,268.8a1.5,1.5 0 1,0 3,0a1.5,1.5 0 1,0 -3,0M406.0,271.2a1.5,1.5 0 1,0 3,0a1.5,1.5 0 1,0 -3,0M371.0,268.8a1.5,1.5 0 1,0 3,0a1.5,1.5 0 1,0 -3,0M383.0,260.3a1.5,1.5 0 1,0 3,0a1.5,1.5 0 1,0 -3,0M386.6,244.8a1.5,1.5 0 1,0 3,0a1.5,1.5 0 1,0 -3,0M381.5,269.2a1.5,1.5 0 1,0 3,0a1.5,1.5 0 1,0 -3,0M382.2,269.2a1.5,1.5 0 1,0 3,0a1.5,1.5 0 1,0 -3,0M403.5,261.5a1.5,1.5 0 1,0 3,0a1.5,1.5 0 1,0 -3,0M394.8,261.7a1.5,1.5 0 1,0 3,0a1.5,1.5 0 1,0 -3,0M405.0,254.7a1.5,1.5 0 1,0 3,0a1.5,1.5 0 1,0 -3,0M404.2,234.3a1.5,1.5 0 1,0 3,0a1.5,1.5 0 1,0 -3,0M378.6,261.0a1.5,1.5 0 1,0 3,0a1.5,1.5 0 1,0 -3,0M391.4,262.1a1.5,1.5 0 1,0 3,0a1.5,1.5 0 1,0 -3,0M396.0,255.5a1.5,1.5 0 1,0 3,0a1.5,1.5 0 1,0 -3,0M398.2,253.6a1.5,1.5 0 1,0 3,0a1.5,1.5 0 1,0 -3,0M390.4,249.6a1.5,1.5 0 1,0 3,0a1.5,1.5 0 1,0 -3,0M406.8,252.9a1.5,1.5 0 1,0 3,0a1.5,1.5 0 1,0 -3,0" fill="none" stroke="#b1f34d" stroke-width="1.1"/><path d="M393.5,245.8a1.5,1.5 0 1,0 3,0a1.5,1.5 0 1,0 -3,0M403.9,245.4a1.5,1.5 0 1,0 3,0a1.5,1.5 0 1,0 -3,0M405.2,243.3a1.5,1.5 0 1,0 3,0a1.5,1.5 0 1,0 -3,0M407.2,245.4a1.5,1.5 0 1,0 3,0a1.5,1.5 0 1,0 -3,0M415.2,236.7a1.5,1.5 0 1,0 3,0a1.5,1.5 0 1,0 -3,0M416.4,240.8a1.5,1.5 0 1,0 3,0a1.5,1.5 0 1,0 -3,0M413.1,246.7a1.5,1.5 0 1,0 3,0a1.5,1.5 0 1,0 -3,0M399.3,249.6a1.5,1.5 0 1,0 3,0a1.5,1.5 0 1,0 -3,0M414.1,251.9a1.5,1.5 0 1,0 3,0a1.5,1.5 0 1,0 -3,0M391.6,250.6a1.5,1.5 0 1,0 3,0a1.5,1.5 0 1,0 -3,0M402.9,250.0a1.5,1.5 0 1,0 3,0a1.5,1.5 0 1,0 -3,0M405.4,250.0a1.5,1.5 0 1,0 3,0a1.5,1.5 0 1,0 -3,0M399.8,255.6a1.5,1.5 0 1,0 3,0a1.5,1.5 0 1,0 -3,0M403.5,255.0a1.5,1.5 0 1,0 3,0a1.5,1.5 0 1,0 -3,0M398.5,258.8a1.5,1.5 0 1,0 3,0a1.5,1.5 0 1,0 -3,0M389.1,255.0a1.5,1.5 0 1,0 3,0a1.5,1.5 0 1,0 -3,0M383.5,262.5a1.5,1.5 0 1,0 3,0a1.5,1.5 0 1,0 -3,0M392.2,262.5a1.5,1.5 0 1,0 3,0a1.5,1.5 0 1,0 -3,0M400.5,251.5a1.5,1.5 0 1,0 3,0a1.5,1.5 0 1,0 -3,0M390.3,253.6a1.5,1.5 0 1,0 3,0a1.5,1.5 0 1,0 -3,0M398.7,250.3a1.5,1.5 0 1,0 3,0a1.5,1.5 0 1,0 -3,0M388.8,260.1a1.5,1.5 0 1,0 3,0a1.5,1.5 0 1,0 -3,0" fill="none" stroke="#bcf444" stroke-width="1.1"/><path d="M276.4,313.0a1.5,1.5 0 1,0 3,0a1.5,1.5 0 1,0 -3,0M274.9,308.2a1.5,1.5 0 1,0 3,0a1.5,1.5 0 1,0 -3,0M262.6,303.6a1.5,1.5 0 1,0 3,0a1.5,1.5 0 1,0 -3,0M283.0,315.0a1.5,1.5 0 1,0 3,0a1.5,1.5 0 1,0 -3,0M274.6,309.7a1.5,1.5 0 1,0 3,0a1.5,1.5 0 1,0 -3,0M281.5,309.4a1.5,1.5 0 1,0 3,0a1.5,1.5 0 1,0 -3,0M272.3,312.8a1.5,1.5 0 1,0 3,0a1.5,1.5 0 1,0 -3,0M280.1,308.0a1.5,1.5 0 1,0 3,0a1.5,1.5 0 1,0 -3,0M269.3,317.6a1.5,1.5 0 1,0 3,0a1.5,1.5 0 1,0 -3,0M271.5,303.4a1.5,1.5 0 1,0 3,0a1.5,1.5 0 1,0 -3,0M287.4,309.4a1.5,1.5 0 1,0 3,0a1.5,1.5 0 1,0 -3,0M277.8,304.5a1.5,1.5 0 1,0 3,0a1.5,1.5 0 1,0 -3,0M280.4,312.4a1.5,1.5 0 1,0 3,0a1.5,1.5 0 1,0 -3,0M290.5,306.7a1.5,1.5 0 1,0 3,0a1.5,1.5 0 1,0 -3,0M280.0,309.9a1.5,1.5 0 1,0 3,0a1.5,1.5 0 1,0 -3,0M278.5,291.8a1.5,1.5 0 1,0 3,0a1.5,1.5 0 1,0 -3,0M281.0,298.8a1.5,1.5 0 1,0 3,0a1.5,1.5 0 1,0 -3,0M283.1,305.4a1.5,1.5 0 1,0 3,0a1.5,1.5 0 1,0 -3,0M292.2,296.6a1.5,1.5 0 1,0 3,0a1.5,1.5 0 1,0 -3,0M282.3,305.9a1.5,1.5 0 1,0 3,0a1.5,1.5 0 1,0 -3,0M279.3,313.2a1.5,1.5 0 1,0 3,0a1.5,1.5 0 1,0 -3,0M279.7,312.6a1.5,1.5 0 1,0 3,0a1.5,1.5 0 1,0 -3,0M279.0,302.6a1.5,1.5 0 1,0 3,0a1.5,1.5 0 1,0 -3,0M267.4,303.6a1.5,1.5 0 1,0 3,0a1.5,1.5 0 1,0 -3,0M286.6,310.8a1.5,1.5 0 1,0 3,0a1.5,1.5 0 1,0 -3,0M285.2,316.7a1.5,1.5 0 1,0 3,0a1.5,1.5 0 1,0 -3,0M274.5,320.4a1.5,1.5 0 1,0 3,0a1.5,1.5 0 1,0 -3,0M275.1,306.3a1.5,1.5 0 1,0 3,0a1.5,1.5 0 1,0 -3,0M280.4,310.9a1.5,1.5 0 1,0 3,0a1.5,1.5 0 1,0 -3,0M274.3,317.0a1.5,1.5 0 1,0 3,0a1.5,1.5 0 1,0 -3,0M285.6,304.7a1.5,1.5 0 1,0 3,0a1.5,1.5 0 1,0 -3,0M277.8,305.3a1.5,1.5 0 1,0 3,0a1.5,1.5 0 1,0 -3,0M278.6,314.2a1.5,1.5 0 1,0 3,0a1.5,1.5 0 1,0 -3,0M273.7,312.2a1.5,1.5 0 1,0 3,0a1.5,1.5 0 1,0 -3,0M282.4,313.9a1.5,1.5 0 1,0 3,0a1.5,1.5 0 1,0 -3,0M285.1,311.6a1.5,1.5 0 1,0 3,0a1.5,1.5 0 1,0 -3,0M265.7,309.5a1.5,1.5 0 1,0 3,0a1.5,1.5 0 1,0 -3,0M281.7,304.2a1.5,1.5 0 1,0 3,0a1.5,1.5 0 1,0 -3,0M267.0,312.4a1.5,1.5 0 1,0 3,0a1.5,1.5 0 1,0 -3,0M268.9,300.0a1.5,1.5 0 1,0 3,0a1.5,1.5 0 1,0 -3,0M261.0,309.8a1.5,1.5 0 1,0 3,0a1.5,1.5 0 1,0 -3,0M283.5,311.9a1.5,1.5 0 1,0 3,0a1.5,1.5 0 1,0 -3,0M275.6,296.7a1.5,1.5 0 1,0 3,0a1.5,1.5 0 1,0 -3,0M285.0,322.1a1.5,1.5 0 1,0 3,0a1.5,1.5 0 1,0 -3,0M280.6,313.5a1.5,1.5 0 1,0 3,0a1.5,1.5 0 1,0 -3,0M296.4,309.7a1.5,1.5 0 1,0 3,0a1.5,1.5 0 1,0 -3,0M275.8,293.4a1.5,1.5 0 1,0 3,0a1.5,1.5 0 1,0 -3,0M288.6,308.0a1.5,1.5 0 1,0 3,0a1.5,1.5 0 1,0 -3,0M277.6,312.6a1.5,1.5 0 1,0 3,0a1.5,1.5 0 1,0 -3,0M289.2,316.6a1.5,1.5 0 1,0 3,0a1.5,1.5 0 1,0 -3,0M272.5,304.9a1.5,1.5 0 1,0 3,0a1.5,1.5 0 1,0 -3,0M266.6,304.7a1.5,1.5 0 1,0 3,0a1.5,1.5 0 1,0 -3,0M289.9,311.1a1.5,1.5 0 1,0 3,0a1.5,1.5 0 1,0 -3,0M290.3,309.8a1.5,1.5 0 1,0 3,0a1.5,1.5 0 1,0 -3,0M272.1,310.5a1.5,1.5 0 1,0 3,0a1.5,1.5 0 1,0 -3,0M276.5,314.7a1.5,1.5 0 1,0 3,0a1.5,1.5 0 1,0 -3,0M277.9,303.0a1.5,1.5 0 1,0 3,0a1.5,1.5 0 1,0 -3,0M272.6,315.8a1.5,1.5 0 1,0 3,0a1.5,1.5 0 1,0 -3,0M271.8,302.7a1.5,1.5 0 1,0 3,0a1.5,1.5 0 1,0 -3,0" fill="none" stroke="#8ef276" stroke-width="1.1"/><path d="M270.6,310.5a1.5,1.5 0 1,0 3,0a1.5,1.5 0 1,0 -3,0M279.9,309.6a1.5,1.5 0 1,0 3,0a1.5,1.5 0 1,0 -3,0M278.9,308.5a1.5,1.5 0 1,0 3,0a1.5,1.5 0 1,0 -3,0M276.3,320.7a1.5,1.5 0 1,0 3,0a1.5,1.5 0 1,0 -3,0M272.2,305.1a1.5,1.5 0 1,0 3,0a1.5,1.5 0 1,0 -3,0M276.7,300.1a1.5,1.5 0 1,0 3,0a1.5,1.5 0 1,0 -3,0M280.0,316.8a1.5,1.5 0 1,0 3,0a1.5,1.5 0 1,0 -3,0M263.5,312.4a1.5,1.5 0 1,0 3,0a1.5,1.5 0 1,0 -3,0M274.6,305.1a1.5,1.5 0 1,0 3,0a1.5,1.5 0 1,0 -3,0M283.2,313.3a1.5,1.5 0 1,0 3,0a1.5,1.5 0 1,0 -3,0M286.9,308.2a1.5,1.5 0 1,0 3,0a1.5,1.5 0 1,0 -3,0M269.7,308.8a1.5,1.5 0 1,0 3,0a1.5,1.5 0 1,0 -3,0M268.2,314.2a1.5,1.5 0 1,0 3,0a1.5,1.5 0 1,0 -3,0M271.9,317.6a1.5,1.5 0 1,0 3,0a1.5,1.5 0 1,0 -3,0M284.4,307.8a1.5,1.5 0 1,0 3,0a1.5,1.5 0 1,0 -3,0M288.5,309.3a1.5,1.5 0 1,0 3,0a1.5,1.5 0 1,0 -3,0M271.9,321.6a1.5,1.5 0 1,0 3,0a1.5,1.5 0 1,0 -3,0M271.9,308.7a1.5,1.5 0 1,0 3,0a1.5,1.5 0 1,0 -3,0M275.4,308.2a1.5,1.5 0 1,0 3,0a1.5,1.5 0 1,0 -3,0M283.9,300.4a1.5,1.5 0 1,0 3,0a1.5,1.5 0 1,0 -3,0M282.5,299.4a1.5,1.5 0 1,0 3,0a1.5,1.5 0 1,0 -3,0M286.0,311.7a1.5,1.5 0 1,0 3,0a1.5,1.5 0 1,0 -3,0M279.2,312.4a1.5,1.5 0 1,0 3,0a1.5,1.5 0 1,0 -3,0M283.0,310.9a1.5,1.5 0 1,0 3,0a1.5,1.5 0 1,0 -3,0M278.8,314.7a1.5,1.5 0 1,0 3,0a1.5,1.5 0 1,0 -3,0M275.6,312.5a1.5,1.5 0 1,0 3,0a1.5,1.5 0 1,0 -3,0M270.3,313.5a1.5,1.5 0 1,0 3,0a1.5,1.5 0 1,0 -3,0M278.5,315.0a1.5,1.5 0 1,0 3,0a1.5,1.5 0 1,0 -3,0M265.4,311.5a1.5,1.5 0 1,0 3,0a1.5,1.5 0 1,0 -3,0M276.1,313.8a1.5,1.5 0 1,0 3,0a1.5,1.5 0 1,0 -3,0M282.4,308.4a1.5,1.5 0 1,0 3,0a1.5,1.5 0 1,0 -3,0M274.7,303.1a1.5,1.5 0 1,0 3,0a1.5,1.5 0 1,0 -3,0M282.9,306.2a1.5,1.5 0 1,0 3,0a1.5,1.5 0 1,0 -3,0M267.3,322.0a1.5,1.5 0 1,0 3,0a1.5,1.5 0 1,0 -3,0M284.5,300.3a1.5,1.5 0 1,0 3,0a1.5,1.5 0 1,0 -3,0M287.3,315.2a1.5,1.5 0 1,0 3,0a1.5,1.5 0 1,0 -3,0M261.5,312.7a1.5,1.5 0 1,0 3,0a1.5,1.5 0 1,0 -3,0M280.2,316.8a1.5,1.5 0 1,0 3,0a1.5,1.5 0 1,0 -3,0M289.8,315.1a1.5,1.5 0 1,0 3,0a1.5,1.5 0 1,0 -3,0M274.5,316.0a1.5,1.5 0 1,0 3,0a1.5,1.5 0 1,0 -3,0M266.7,320.1a1.5,1.5 0 1,0 3,0a1.5,1.5 0 1,0 -3,0M275.7,309.8a1.5,1.5 0 1,0 3,0a1.5,1.5 0 1,0 -3,0M275.7,316.8a1.5,1.5 0 1,0 3,0a1.5,1.5 0 1,0 -3,0M270.2,314.3a1.5,1.5 0 1,0 3,0a1.5,1.5 0 1,0 -3,0M281.1,306.3a1.5,1.5 0 1,0 3,0a1.5,1.5 0 1,0 -3,0M277.9,306.2a1.5,1.5 0 1,0 3,0a1.5,1.5 0 1,0 -3,0M281.9,309.8a1.5,1.5 0 1,0 3,0a1.5,1.5 0 1,0 -3,0M274.1,307.5a1.5,1.5 0 1,0 3,0a1.5,1.5 0 1,0 -3,0M282.4,313.3a1.5,1.5 0 1,0 3,0a1.5,1.5 0 1,0 -3,0M276.4,308.5a1.5,1.5 0 1,0 3,0a1.5,1.5 0 1,0 -3,0M269.8,309.8a1.5,1.5 0 1,0 3,0a1.5,1.5 0 1,0 -3,0M269.8,306.7a1.5,1.5 0 1,0 3,0a1.5,1.5 0 1,0 -3,0M266.7,319.8a1.5,1.5 0 1,0 3,0a1.5,1.5 0 1,0 -3,0M266.7,309.0a1.5,1.5 0 1,0 3,0a1.5,1.5 0 1,0 -3,0M272.0,313.0a1.5,1.5 0 1,0 3,0a1.5,1.5 0 1,0 -3,0M261.7,310.3a1.5,1.5 0 1,0 3,0a1.5,1.5 0 1,0 -3,0M280.7,310.6a1.5,1.5 0 1,0 3,0a1.5,1.5 0 1,0 -3,0M273.0,311.0a1.5,1.5 0 1,0 3,0a1.5,1.5 0 1,0 -3,0M276.6,310.6a1.5,1.5 0 1,0 3,0a1.5,1.5 0 1,0 -3,0M277.4,310.5a1.5,1.5 0 1,0 3,0a1.5,1.5 0 1,0 -3,0M273.6,302.7a1.5,1.5 0 1,0 3,0a1.5,1.5 0 1,0 -3,0M281.9,314.5a1.5,1.5 0 1,0 3,0a1.5,1.5 0 1,0 -3,0M265.0,314.2a1.5,1.5 0 1,0 3,0a1.5,1.5 0 1,0 -3,0M264.7,297.2a1.5,1.5 0 1,0 3,0a1.5,1.5 0 1,0 -3,0M273.2,314.2a1.5,1.5 0 1,0 3,0a1.5,1.5 0 1,0 -3,0M280.5,309.3a1.5,1.5 0 1,0 3,0a1.5,1.5 0 1,0 -3,0" fill="none" stroke="#94f06c" stroke-width="1.1"/><path d="M285.0,309.3a1.5,1.5 0 1,0 3,0a1.5,1.5 0 1,0 -3,0M284.1,308.5a1.5,1.5 0 1,0 3,0a1.5,1.5 0 1,0 -3,0M268.1,318.2a1.5,1.5 0 1,0 3,0a1.5,1.5 0 1,0 -3,0M281.3,311.1a1.5,1.5 0 1,0 3,0a1.5,1.5 0 1,0 -3,0M270.4,308.9a1.5,1.5 0 1,0 3,0a1.5,1.5 0 1,0 -3,0M279.0,304.7a1.5,1.5 0 1,0 3,0a1.5,1.5 0 1,0 -3,0M279.8,311.0a1.5,1.5 0 1,0 3,0a1.5,1.5 0 1,0 -3,0M271.5,306.8a1.5,1.5 0 1,0 3,0a1.5,1.5 0 1,0 -3,0M276.2,317.6a1.5,1.5 0 1,0 3,0a1.5,1.5 0 1,0 -3,0M275.1,301.9a1.5,1.5 0 1,0 3,0a1.5,1.5 0 1,0 -3,0M279.7,304.6a1.5,1.5 0 1,0 3,0a1.5,1.5 0 1,0 -3,0M281.1,295.0a1.5,1.5 0 1,0 3,0a1.5,1.5 0 1,0 -3,0M259.7,299.7a1.5,1.5 0 1,0 3,0a1.5,1.5 0 1,0 -3,0M279.5,311.4a1.5,1.5 0 1,0 3,0a1.5,1.5 0 1,0 -3,0M281.4,311.4a1.5,1.5 0 1,0 3,0a1.5,1.5 0 1,0 -3,0M269.6,320.4a1.5,1.5 0 1,0 3,0a1.5,1.5 0 1,0 -3,0M284.2,310.3a1.5,1.5 0 1,0 3,0a1.5,1.5 0 1,0 -3,0M263.1,310.5a1.5,1.5 0 1,0 3,0a1.5,1.5 0 1,0 -3,0M278.7,297.3a1.5,1.5 0 1,0 3,0a1.5,1.5 0 1,0 -3,0M277.9,315.7a1.5,1.5 0 1,0 3,0a1.5,1.5 0 1,0 -3,0M280.2,307.4a1.5,1.5 0 1,0 3,0a1.5,1.5 0 1,0 -3,0M280.1,315.7a1.5,1.5 0 1,0 3,0a1.5,1.5 0 1,0 -3,0M283.7,307.2a1.5,1.5 0 1,0 3,0a1.5,1.5 0 1,0 -3,0M273.3,316.9a1.5,1.5 0 1,0 3,0a1.5,1.5 0 1,0 -3,0M285.5,303.6a1.5,1.5 0 1,0 3,0a1.5,1.5 0 1,0 -3,0M267.9,311.9a1.5,1.5 0 1,0 3,0a1.5,1.5 0 1,0 -3,0M273.3,314.9a1.5,1.5 0 1,0 3,0a1.5,1.5 0 1,0 -3,0M279.5,309.5a1.5,1.5 0 1,0 3,0a1.5,1.5 0 1,0 -3,0M276.4,311.5a1.5,1.5 0 1,0 3,0a1.5,1.5 0 1,0 -3,0M280.7,308.2a1.5,1.5 0 1,0 3,0a1.5,1.5 0 1,0 -3,0M273.5,308.4a1.5,1.5 0 1,0 3,0a1.5,1.5 0 1,0 -3,0M283.5,290.8a1.5,1.5 0 1,0 3,0a1.5,1.5 0 1,0 -3,0M275.6,314.2a1.5,1.5 0 1,0 3,0a1.5,1.5 0 1,0 -3,0M277.7,305.9a1.5,1.5 0 1,0 3,0a1.5,1.5 0 1,0 -3,0M293.3,305.9a1.5,1.5 0 1,0 3,0a1.5,1.5 0 1,0 -3,0M273.3,310.2a1.5,1.5 0 1,0 3,0a1.5,1.5 0 1,0 -3,0M275.4,309.7a1.5,1.5 0 1,0 3,0a1.5,1.5 0 1,0 -3,0M258.6,313.1a1.5,1.5 0 1,0 3,0a1.5,1.5 0 1,0 -3,0M281.0,300.6a1.5,1.5 0 1,0 3,0a1.5,1.5 0 1,0 -3,0M285.5,315.9a1.5,1.5 0 1,0 3,0a1.5,1.5 0 1,0 -3,0M278.3,299.5a1.5,1.5 0 1,0 3,0a1.5,1.5 0 1,0 -3,0M280.6,315.8a1.5,1.5 0 1,0 3,0a1.5,1.5 0 1,0 -3,0M276.4,310.9a1.5,1.5 0 1,0 3,0a1.5,1.5 0 1,0 -3,0M279.6,318.4a1.5,1.5 0 1,0 3,0a1.5,1.5 0 1,0 -3,0M264.1,304.5a1.5,1.5 0 1,0 3,0a1.5,1.5 0 1,0 -3,0M284.5,300.8a1.5,1.5 0 1,0 3,0a1.5,1.5 0 1,0 -3,0M285.9,305.1a1.5,1.5 0 1,0 3,0a1.5,1.5 0 1,0 -3,0M278.0,309.9a1.5,1.5 0 1,0 3,0a1.5,1.5 0 1,0 -3,0M266.8,318.4a1.5,1.5 0 1,0 3,0a1.5,1.5 0 1,0 -3,0M278.7,315.5a1.5,1.5 0 1,0 3,0a1.5,1.5 0 1,0 -3,0M262.8,307.8a1.5,1.5 0 1,0 3,0a1.5,1.5 0 1,0 -3,0M269.1,312.3a1.5,1.5 0 1,0 3,0a1.5,1.5 0 1,0 -3,0M288.5,305.6a1.5,1.5 0 1,0 3,0a1.5,1.5 0 1,0 -3,0M273.2,302.9a1.5,1.5 0 1,0 3,0a1.5,1.5 0 1,0 -3,0M265.3,310.0a1.5,1.5 0 1,0 3,0a1.5,1.5 0 1,0 -3,0M278.7,314.0a1.5,1.5 0 1,0 3,0a1.5,1.5 0 1,0 -3,0M275.6,302.5a1.5,1.5 0 1,0 3,0a1.5,1.5 0 1,0 -3,0M269.7,307.3a1.5,1.5 0 1,0 3,0a1.5,1.5 0 1,0 -3,0M262.6,316.8a1.5,1.5 0 1,0 3,0a1.5,1.5 0 1,0 -3,0M286.9,310.1a1.5,1.5 0 1,0 3,0a1.5,1.5 0 1,0 -3,0M285.4,314.8a1.5,1.5 0 1,0 3,0a1.5,1.5 0 1,0 -3,0M285.8,295.1a1.5,1.5 0 1,0 3,0a1.5,1.5 0 1,0 -3,0M272.5,315.5a1.5,1.5 0 1,0 3,0a1.5,1.5 0 1,0 -3,0M288.8,304.4a1.5,1.5 0 1,0 3,0a1.5,1.5 0 1,0 -3,0M271.0,311.1a1.5,1.5 0 1,0 3,0a1.5,1.5 0 1,0 -3,0M282.9,308.0a1.5,1.5 0 1,0 3,0a1.5,1.5 0 1,0 -3,0M282.0,310.8a1.5,1.5 0 1,0 3,0a1.5,1.5 0 1,0 -3,0M277.6,304.8a1.5,1.5 0 1,0 3,0a1.5,1.5 0 1,0 -3,0M279.2,309.9a1.5,1.5 0 1,0 3,0a1.5,1.5 0 1,0 -3,0M292.7,310.4a1.5,1.5 0 1,0 3,0a1.5,1.5 0 1,0 -3,0M277.7,312.6a1.5,1.5 0 1,0 3,0a1.5,1.5 0 1,0 -3,0M281.5,309.2a1.5,1.5 0 1,0 3,0a1.5,1.5 0 1,0 -3,0M275.6,304.7a1.5,1.5 0 1,0 3,0a1.5,1.5 0 1,0 -3,0M279.4,307.4a1.5,1.5 0 1,0 3,0a1.5,1.5 0 1,0 -3,0M273.6,320.8a1.5,1.5 0 1,0 3,0a1.5,1.5 0 1,0 -3,0" fill="none" stroke="#88f47c" stroke-width="1.1"/><path d="M188.8,337.3h5M191.3,334.8v5M229.2,334.7h5M231.7,332.2v5M252.2,337.3h5M254.7,334.8v5M164.2,310.5h5M166.7,308.0v5M225.8,292.3h5M228.3,289.8v5M220.0,310.8h5M222.5,308.3v5M248.8,289.3h5M251.3,286.8v5M251.8,298.3h5M254.3,295.8v5M244.8,301.5h5M247.3,299.0v5M244.0,313.8h5M246.5,311.3v5M274.8,286.8h5M277.3,284.3v5M283.5,331.7h5M286.0,329.2v5M300.2,330.3h5M302.7,327.8v5M311.8,331.0h5M314.3,328.5v5M306.8,289.0h5M309.3,286.5v5M304.8,295.0h5M307.3,292.5v5M306.2,301.7h5M308.7,299.2v5M300.2,301.0h5M302.7,298.5v5M296.8,293.0h5M299.3,290.5v5M310.2,295.7h5M312.7,293.2v5M314.2,301.7h5M316.7,299.2v5M306.2,309.0h5M308.7,306.5v5M310.8,313.0h5M313.3,310.5v5M314.8,311.0h5M317.3,308.5v5M322.8,293.7h5M325.3,291.2v5M326.2,307.0h5M328.7,304.5v5M325.5,331.0h5M328.0,328.5v5M336.0,254.4h5M338.5,251.9v5M363.8,256.6h5M366.3,254.1v5M356.7,267.5h5M359.2,265.0v5M367.9,267.5h5M370.4,265.0v5M357.1,278.3h5M359.6,275.8v5M334.2,280.4h5M336.7,277.9v5M337.1,279.2h5M339.6,276.7v5M330.0,287.9h5M332.5,285.4v5M337.9,287.5h5M340.4,285.0v5M347.5,287.5h5M350.0,285.0v5M350.8,287.9h5M353.3,285.4v5M322.1,283.3h5M324.6,280.8v5M442.8,232.2h5M445.2,229.8v5M430.0,318.8h5M432.5,316.2v5M394.1,302.4h5M396.6,299.9v5M400.0,302.4h5M402.5,299.9v5M401.9,315.2h5M404.4,312.8v5M395.0,318.5h5M397.5,316.0v5M392.7,322.6h5M395.2,320.1v5M376.2,306.5h5M378.7,304.0v5M378.0,311.1h5M380.5,308.6v5M373.9,317.5h5M376.4,315.0v5M370.2,313.0h5M372.8,310.5v5M389.5,298.3h5M392.0,295.8v5M341.7,331.7h5M344.2,329.2v5M346.7,333.3h5M349.2,330.8v5M303.8,388.3h5M306.3,385.8v5M435.0,384.5h5M437.5,382.0v5M386.0,257.5h5M388.5,255.0v5M381.2,277.5h5M383.8,275.0v5M345.0,286.2h5M347.5,283.8v5M349.4,290.6h5M351.9,288.1v5M362.5,290.0h5M365.0,287.5v5M368.8,293.8h5M371.2,291.2v5M376.2,288.8h5M378.8,286.2v5M387.5,290.0h5M390.0,287.5v5M336.2,296.9h5M338.8,294.4v5M388.1,298.1h5M390.6,295.6v5M324.0,291.2h5M326.5,288.8v5M329.6,293.1h5M332.1,290.6v5M326.6,298.0h5M329.1,295.5v5M342.0,301.8h5M344.5,299.2v5M345.0,294.6h5M347.5,292.1v5M352.5,299.1h5M355.0,296.6v5M333.8,301.8h5M336.2,299.2v5M330.0,306.2h5M332.5,303.8v5M325.5,308.5h5M328.0,306.0v5M334.1,311.5h5M336.6,309.0v5M330.0,313.0h5M332.5,310.5v5M343.5,308.1h5M346.0,305.6v5M340.1,312.2h5M342.6,309.8v5M348.0,313.0h5M350.5,310.5v5M361.5,295.0h5M364.0,292.5v5M363.0,298.8h5M365.5,296.2v5M366.0,301.0h5M368.5,298.5v5M361.9,313.0h5M364.4,310.5v5M376.5,297.2h5M379.0,294.8v5M316.8,294.1h5M319.2,291.6v5M328.4,288.9h5M330.9,286.4v5M325.8,293.8h5M328.2,291.2v5M311.5,300.9h5M314.0,298.4v5M316.8,299.8h5M319.2,297.2v5M322.0,299.8h5M324.5,297.2v5M296.5,303.5h5M299.0,301.0v5M300.2,307.2h5M302.8,304.8v5M322.0,310.2h5M324.5,307.8v5M329.5,311.0h5M332.0,308.5v5M292.0,300.5h5M294.5,298.0v5M295.0,293.8h5M297.5,291.2v5M290.5,306.5h5M293.0,304.0v5M348.0,306.0h5M350.5,303.5v5M360.0,297.0h5M362.5,294.5v5M369.8,303.8h5M372.2,301.2v5M375.0,286.5h5M377.5,284.0v5M376.5,295.5h5M379.0,293.0v5M363.0,286.5h5M365.5,284.0v5" fill="none" stroke="#66f880" stroke-width="1.2"/><g fill="none" stroke="#dcdcdc" stroke-width="1.1" stroke-linecap="round" stroke-linejoin="round"><path d="M177.5,193.5 L189.5,189.5 L185.5,201.5"/><path d="M411.5,427.5 L423.5,423.5 L419.5,435.5"/><path d="M295,310.5 L306,306.5 L302.5,318"/></g><g font-family="Liberation Sans" font-weight="bold" font-size="12.5" fill="#000" stroke="#000" stroke-width="0.25"><text x="282" y="56.7" textLength="34" lengthAdjust="spacingAndGlyphs">North</text><text x="282" y="577.8" textLength="34" lengthAdjust="spacingAndGlyphs">South</text><text x="16" y="317.8" textLength="27" lengthAdjust="spacingAndGlyphs">West</text><text x="552.5" y="317.9" textLength="27" lengthAdjust="spacingAndGlyphs">East</text></g><g font-family="Liberation Mono" font-size="13" fill="#000"><text transform="translate(12,571.4) scale(0.8974,1)"><tspan font-style="italic">V</tspan><tspan font-size="10" dy="3.2">h</tspan><tspan dy="-3.2"> = </tspan><tspan font-style="italic">36</tspan> ± <tspan font-style="italic">22</tspan> m/s</text><text transform="translate(12,592.5) scale(0.8974,1)" font-style="italic">Geographic coordinates</text><text transform="translate(482,571.4) scale(0.8974,1)"><tspan font-style="italic">V</tspan><tspan font-size="10" dy="3.2">z</tspan><tspan dy="-3.2"> = </tspan><tspan font-style="italic">6</tspan> ± <tspan font-style="italic">1</tspan> m/s</text><text transform="translate(419,592.5) scale(0.8974,1)" font-style="italic">Zenith: max 40°<tspan dx="-2.8">  step 5°</tspan></text></g><defs><linearGradient id="cb" x1="0" y1="0" x2="0" y2="1"><stop offset="0" stop-color="#0c0ca8"/><stop offset="0.04" stop-color="#0404d0"/><stop offset="0.08" stop-color="#0000f4"/><stop offset="0.16" stop-color="#0040ff"/><stop offset="0.244" stop-color="#0080ff"/><stop offset="0.286" stop-color="#00b0ff"/><stop offset="0.327" stop-color="#00e8ff"/><stop offset="0.348" stop-color="#00ffff"/><stop offset="0.41" stop-color="#40ffc0"/><stop offset="0.472" stop-color="#70f890"/><stop offset="0.493" stop-color="#80f890"/><stop offset="0.534" stop-color="#a0f870"/><stop offset="0.576" stop-color="#c8f840"/><stop offset="0.609" stop-color="#e8f820"/><stop offset="0.646" stop-color="#ffff00"/><stop offset="0.7" stop-color="#ffd000"/><stop offset="0.741" stop-color="#ffa800"/><stop offset="0.783" stop-color="#ff8000"/><stop offset="0.824" stop-color="#ff5000"/><stop offset="0.865" stop-color="#ff2000"/><stop offset="0.907" stop-color="#ff0000"/><stop offset="0.948" stop-color="#e80000"/><stop offset="1" stop-color="#b00000"/></linearGradient></defs><rect x="593" y="341" width="15" height="241.5" fill="url(#cb)"/><path d="M608.5,341 V582.5" stroke="#000" stroke-width="1"/><path d="M608,582.50h6M608,578.60h6M608,574.71h4M608,570.81h4M608,566.92h4M608,563.02h4M608,559.13h6M608,555.23h4M608,551.34h4M608,547.44h4M608,543.55h4M608,539.65h6M608,535.76h4M608,531.86h4M608,527.97h4M608,524.07h4M608,520.18h6M608,516.28h4M608,512.39h4M608,508.49h4M608,504.60h4M608,500.70h6M608,496.81h4M608,492.91h4M608,489.02h4M608,485.12h4M608,481.23h6M608,477.33h4M608,473.44h4M608,469.54h4M608,465.65h4M608,461.75h6M608,457.85h4M608,453.96h4M608,450.06h4M608,446.17h4M608,442.27h6M608,438.38h4M608,434.48h4M608,430.59h4M608,426.69h4M608,422.80h6M608,418.90h4M608,415.01h4M608,411.11h4M608,407.22h4M608,403.32h6M608,399.43h4M608,395.53h4M608,391.64h4M608,387.74h4M608,383.85h6M608,379.95h4M608,376.06h4M608,372.16h4M608,368.27h4M608,364.37h6M608,360.48h4M608,356.58h4M608,352.69h4M608,348.79h4M608,344.90h6M608,341.00h6" stroke="#000" stroke-width="1"/><g font-family="Liberation Sans" font-weight="bold" font-size="10" fill="#000"><text x="618" y="344.60" textLength="17.1" lengthAdjust="spacingAndGlyphs">3.1</text><text x="618" y="367.97" textLength="17.1" lengthAdjust="spacingAndGlyphs">2.5</text><text x="618" y="387.45" textLength="17.1" lengthAdjust="spacingAndGlyphs">2.0</text><text x="618" y="406.92" textLength="17.1" lengthAdjust="spacingAndGlyphs">1.5</text><text x="618" y="426.40" textLength="17.1" lengthAdjust="spacingAndGlyphs">1.0</text><text x="618" y="445.87" textLength="17.1" lengthAdjust="spacingAndGlyphs">0.5</text><text x="618" y="465.35" textLength="6.4" lengthAdjust="spacingAndGlyphs">0</text><text x="618" y="484.83" textLength="21.3" lengthAdjust="spacingAndGlyphs">-0.5</text><text x="618" y="504.30" textLength="21.3" lengthAdjust="spacingAndGlyphs">-1.0</text><text x="618" y="523.78" textLength="21.3" lengthAdjust="spacingAndGlyphs">-1.5</text><text x="618" y="543.25" textLength="21.3" lengthAdjust="spacingAndGlyphs">-2.0</text><text x="618" y="562.73" textLength="21.3" lengthAdjust="spacingAndGlyphs">-2.5</text><text x="618" y="586.10" textLength="21.3" lengthAdjust="spacingAndGlyphs">-3.1</text></g><text transform="translate(658,492) rotate(-90)" font-family="Liberation Sans" font-weight="bold" font-size="10.3" fill="#000" textLength="53" lengthAdjust="spacingAndGlyphs">Doppler, Hz</text><path d="M669,402.5h8M673,399v7" stroke="#0808f0" stroke-width="1.3"/><text x="682.5" y="405.8" font-family="Liberation Sans" font-weight="bold" font-size="10.2" fill="#0808f0" textLength="44.3" lengthAdjust="spacingAndGlyphs">Positive</text><circle cx="672.8" cy="523" r="2.6" fill="none" stroke="#e80000" stroke-width="1.1"/><text x="682.5" y="525.8" font-family="Liberation Sans" font-weight="bold" font-size="10.2" fill="#e80000" textLength="50.8" lengthAdjust="spacingAndGlyphs">Negative</text><text x="654.5" y="592.5" font-family="Liberation Sans" font-size="9.6" fill="#000" textLength="137.5" lengthAdjust="spacingAndGlyphs">ShowSkymap v 1.0   SD v 5.1</text></svg></body></html>
